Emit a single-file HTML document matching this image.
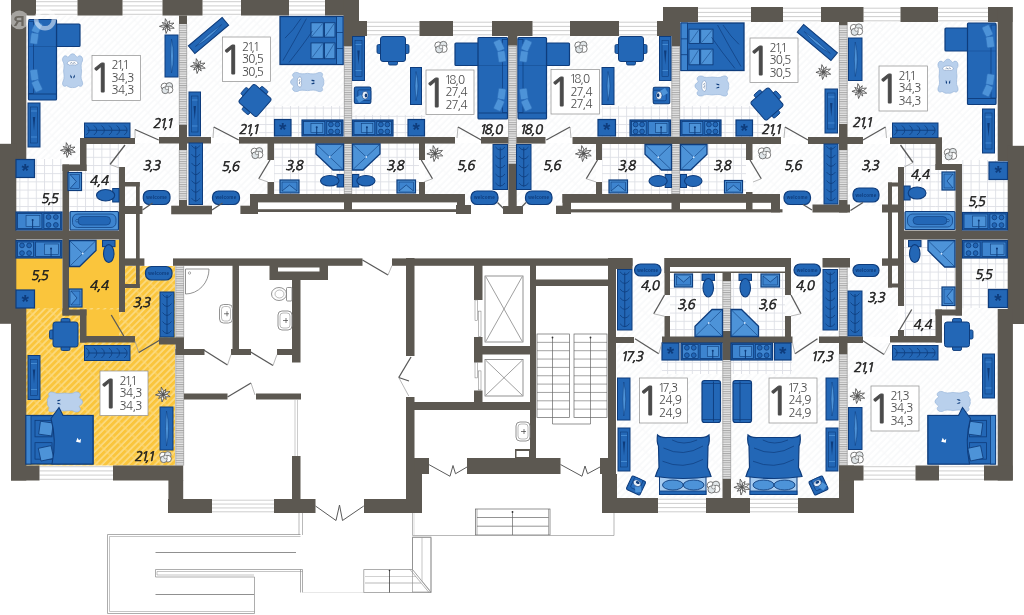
<!DOCTYPE html>
<html lang="ru"><head><meta charset="utf-8"><title>План этажа</title>
<style>
html,body{margin:0;padding:0;background:#fff}
body{width:1024px;height:615px;overflow:hidden;font-family:"Liberation Sans",sans-serif}
svg{display:block}
svg text{font-family:"Liberation Sans",sans-serif}
svg text.ng{font-family:"NanumGothic","Liberation Sans",sans-serif}
</style></head><body>
<svg width="1024" height="615" viewBox="0 0 1024 615">
<defs>
<pattern id="hatch" width="4.7" height="14" patternUnits="userSpaceOnUse" patternTransform="rotate(45)"><rect width="4.7" height="14" fill="#fff"/><line x1="1" y1="0" x2="1" y2="14" stroke="#f1f3f5" stroke-width="0.9"/><line x1="1" y1="3" x2="4.7" y2="3" stroke="#f6f7f8" stroke-width="0.7"/></pattern>
<pattern id="hatchY" width="4.7" height="15" patternUnits="userSpaceOnUse" patternTransform="rotate(45)"><rect width="4.7" height="15" fill="#fac53c"/><line x1="1" y1="0" x2="1" y2="15" stroke="#fde7a8" stroke-width="1.1"/><line x1="1" y1="4" x2="4.7" y2="4" stroke="#fbd983" stroke-width="0.8"/></pattern>
<pattern id="tile" width="8.2" height="8.2" x="3" y="1" patternUnits="userSpaceOnUse"><rect width="8.2" height="8.2" fill="#fff"/><path d="M0 0.5H8.2M0.5 0V8.2" stroke="#dddfe6" stroke-width="0.9" fill="none"/></pattern>
<pattern id="lp" width="8" height="2.3" patternUnits="userSpaceOnUse"><rect width="8" height="2.3" fill="#e4e4e4"/><line x1="0" y1="0.5" x2="8" y2="0.5" stroke="#a9a9a9" stroke-width="1"/></pattern>
<filter id="noop" x="0" y="0" width="1024" height="615" filterUnits="userSpaceOnUse"><feOffset dx="0" dy="0"/></filter>
</defs>
<rect width="1024" height="615" fill="#fff"/>
<g filter="url(#noop)">
<rect x="26" y="15.5" width="153" height="122" fill="url(#hatch)" />
<rect x="26" y="137" width="54" height="23" fill="url(#hatch)" />
<rect x="125" y="143" width="54" height="63" fill="url(#hatch)" />
<rect x="125" y="186" width="11" height="20" fill="url(#hatch)" />
<rect x="16" y="159" width="46.5" height="53" fill="url(#tile)" />
<rect x="86" y="144" width="33" height="68" fill="url(#tile)" />
<rect x="69" y="171" width="17" height="41" fill="url(#tile)" />
<rect x="187" y="15.5" width="157" height="121.5" fill="url(#hatch)" />
<rect x="187" y="143" width="80.5" height="51" fill="url(#hatch)" />
<rect x="187" y="194" width="63" height="12" fill="url(#hatch)" />
<rect x="259" y="106" width="85" height="30.5" fill="url(#tile)" />
<rect x="274" y="143" width="70" height="51" fill="url(#tile)" />
<rect x="352" y="36" width="156" height="101" fill="url(#hatch)" />
<rect x="425" y="143" width="83" height="51" fill="url(#hatch)" />
<rect x="465" y="194" width="43" height="12" fill="url(#hatch)" />
<rect x="352" y="115" width="73" height="21.5" fill="url(#tile)" />
<rect x="352" y="143" width="67" height="51" fill="url(#tile)" />
<rect x="516" y="36" width="156" height="101" fill="url(#hatch)" />
<rect x="516" y="143" width="80" height="51" fill="url(#hatch)" />
<rect x="516" y="194" width="46.5" height="12" fill="url(#hatch)" />
<rect x="602" y="106" width="70" height="31" fill="url(#tile)" />
<rect x="602" y="144" width="70" height="50" fill="url(#tile)" />
<rect x="680" y="22" width="159" height="115" fill="url(#hatch)" />
<rect x="752.5" y="144" width="86.5" height="50" fill="url(#hatch)" />
<rect x="781" y="194" width="58" height="12" fill="url(#hatch)" />
<rect x="680" y="106" width="85" height="31" fill="url(#tile)" />
<rect x="680" y="144" width="66" height="50" fill="url(#tile)" />
<rect x="847.5" y="22" width="150.5" height="115.5" fill="url(#hatch)" />
<rect x="942" y="137" width="56" height="25" fill="url(#hatch)" />
<rect x="847.5" y="144" width="50.5" height="62" fill="url(#hatch)" />
<rect x="962" y="160" width="46" height="52.5" fill="url(#tile)" />
<rect x="904" y="144" width="31.5" height="68" fill="url(#tile)" />
<rect x="935.5" y="170" width="20" height="42" fill="url(#tile)" />
<rect x="847.5" y="266" width="50.5" height="71" fill="url(#hatch)" />
<rect x="847.5" y="343" width="150.5" height="122.5" fill="url(#hatch)" />
<rect x="942" y="315" width="56" height="28" fill="url(#hatch)" />
<rect x="962" y="240" width="46" height="68" fill="url(#tile)" />
<rect x="962" y="308" width="36" height="8" fill="url(#hatch)" />
<rect x="904" y="240" width="51.5" height="69.5" fill="url(#tile)" />
<rect x="904" y="309.5" width="31.5" height="26.5" fill="url(#tile)" />
<rect x="617" y="266" width="105.5" height="232" fill="url(#hatch)" />
<rect x="731" y="266" width="108" height="232" fill="url(#hatch)" />
<rect x="670" y="273" width="52.5" height="64" fill="url(#tile)" />
<rect x="731" y="273" width="54" height="64" fill="url(#tile)" />
<rect x="662" y="360" width="60.5" height="14" fill="url(#tile)" />
<rect x="731" y="360" width="61" height="14" fill="url(#tile)" />
<rect x="16" y="240" width="46.5" height="70" fill="#fac53c" />
<rect x="69" y="240" width="50" height="96" fill="#fac53c" />
<rect x="62" y="310" width="18" height="10" fill="#fac53c" />
<rect x="125" y="266" width="50" height="71.5" fill="url(#hatchY)" />
<rect x="26" y="308" width="149" height="157.5" fill="url(#hatchY)" />
<rect x="86" y="309.5" width="33" height="26.5" fill="#fac53c" />
<rect x="119" y="312" width="6" height="24" fill="url(#hatchY)" />
<rect x="179" y="24" width="8" height="101" fill="url(#lp)" />
<path d="M179.3 24V125M186.7 24V125" stroke="#9f9f9f" stroke-width="0.7" fill="none"/>
<rect x="179" y="150" width="8" height="50" fill="url(#lp)" />
<path d="M179.3 150V200M186.7 150V200" stroke="#9f9f9f" stroke-width="0.7" fill="none"/>
<rect x="344" y="46" width="8" height="148" fill="url(#lp)" />
<path d="M344.3 46V194M351.7 46V194" stroke="#9f9f9f" stroke-width="0.7" fill="none"/>
<rect x="508.3" y="45" width="8.4" height="119" fill="url(#lp)" />
<path d="M508.6 45V164M516.4 45V164" stroke="#9f9f9f" stroke-width="0.7" fill="none"/>
<rect x="671.5" y="46" width="8.5" height="148" fill="url(#lp)" />
<path d="M671.8 46V194M679.7 46V194" stroke="#9f9f9f" stroke-width="0.7" fill="none"/>
<rect x="839" y="25" width="8.5" height="99" fill="url(#lp)" />
<path d="M839.3 25V124M847.2 25V124" stroke="#9f9f9f" stroke-width="0.7" fill="none"/>
<rect x="839" y="150" width="8.5" height="50" fill="url(#lp)" />
<path d="M839.3 150V200M847.2 150V200" stroke="#9f9f9f" stroke-width="0.7" fill="none"/>
<rect x="175.5" y="266" width="8.5" height="71.5" fill="url(#lp)" />
<path d="M175.8 266V337.5M183.7 266V337.5" stroke="#9f9f9f" stroke-width="0.7" fill="none"/>
<rect x="175.5" y="355" width="8.5" height="110.5" fill="url(#lp)" />
<path d="M175.8 355V465.5M183.7 355V465.5" stroke="#9f9f9f" stroke-width="0.7" fill="none"/>
<rect x="722.5" y="281" width="8.5" height="50" fill="url(#lp)" />
<path d="M722.8 281V331M730.7 281V331" stroke="#9f9f9f" stroke-width="0.7" fill="none"/>
<rect x="722.5" y="360" width="8.5" height="119" fill="url(#lp)" />
<path d="M722.8 360V479M730.7 360V479" stroke="#9f9f9f" stroke-width="0.7" fill="none"/>
<rect x="839" y="267.5" width="8.5" height="69.5" fill="url(#lp)" />
<path d="M839.3 267.5V337M847.2 267.5V337" stroke="#9f9f9f" stroke-width="0.7" fill="none"/>
<rect x="839" y="354" width="8.5" height="111.5" fill="url(#lp)" />
<path d="M839.3 354V465.5M847.2 354V465.5" stroke="#9f9f9f" stroke-width="0.7" fill="none"/>
<rect x="36" y="1" width="41.5" height="14" fill="#fff" />
<line x1="36" y1="1.7" x2="77.5" y2="1.7" stroke="#b9b9b9" stroke-width="0.7"/>
<line x1="36" y1="5.9" x2="77.5" y2="5.9" stroke="#b9b9b9" stroke-width="0.7"/>
<line x1="36" y1="10.1" x2="77.5" y2="10.1" stroke="#b9b9b9" stroke-width="0.7"/>
<line x1="36" y1="14.3" x2="77.5" y2="14.3" stroke="#b9b9b9" stroke-width="0.7"/>
<rect x="122.5" y="1" width="40" height="14" fill="#fff" />
<line x1="122.5" y1="1.7" x2="162.5" y2="1.7" stroke="#b9b9b9" stroke-width="0.7"/>
<line x1="122.5" y1="5.9" x2="162.5" y2="5.9" stroke="#b9b9b9" stroke-width="0.7"/>
<line x1="122.5" y1="10.1" x2="162.5" y2="10.1" stroke="#b9b9b9" stroke-width="0.7"/>
<line x1="122.5" y1="14.3" x2="162.5" y2="14.3" stroke="#b9b9b9" stroke-width="0.7"/>
<rect x="202.5" y="1" width="38.5" height="14" fill="#fff" />
<line x1="202.5" y1="1.7" x2="241" y2="1.7" stroke="#b9b9b9" stroke-width="0.7"/>
<line x1="202.5" y1="5.9" x2="241" y2="5.9" stroke="#b9b9b9" stroke-width="0.7"/>
<line x1="202.5" y1="10.1" x2="241" y2="10.1" stroke="#b9b9b9" stroke-width="0.7"/>
<line x1="202.5" y1="14.3" x2="241" y2="14.3" stroke="#b9b9b9" stroke-width="0.7"/>
<rect x="289" y="1" width="36" height="14" fill="#fff" />
<line x1="289" y1="1.7" x2="325" y2="1.7" stroke="#b9b9b9" stroke-width="0.7"/>
<line x1="289" y1="5.9" x2="325" y2="5.9" stroke="#b9b9b9" stroke-width="0.7"/>
<line x1="289" y1="10.1" x2="325" y2="10.1" stroke="#b9b9b9" stroke-width="0.7"/>
<line x1="289" y1="14.3" x2="325" y2="14.3" stroke="#b9b9b9" stroke-width="0.7"/>
<rect x="367" y="21.5" width="52.5" height="14" fill="#fff" />
<line x1="367" y1="22.2" x2="419.5" y2="22.2" stroke="#b9b9b9" stroke-width="0.7"/>
<line x1="367" y1="26.4" x2="419.5" y2="26.4" stroke="#b9b9b9" stroke-width="0.7"/>
<line x1="367" y1="30.6" x2="419.5" y2="30.6" stroke="#b9b9b9" stroke-width="0.7"/>
<line x1="367" y1="34.8" x2="419.5" y2="34.8" stroke="#b9b9b9" stroke-width="0.7"/>
<rect x="453" y="21.5" width="39" height="14" fill="#fff" />
<line x1="453" y1="22.2" x2="492" y2="22.2" stroke="#b9b9b9" stroke-width="0.7"/>
<line x1="453" y1="26.4" x2="492" y2="26.4" stroke="#b9b9b9" stroke-width="0.7"/>
<line x1="453" y1="30.6" x2="492" y2="30.6" stroke="#b9b9b9" stroke-width="0.7"/>
<line x1="453" y1="34.8" x2="492" y2="34.8" stroke="#b9b9b9" stroke-width="0.7"/>
<rect x="532.5" y="21.5" width="37.5" height="14" fill="#fff" />
<line x1="532.5" y1="22.2" x2="570" y2="22.2" stroke="#b9b9b9" stroke-width="0.7"/>
<line x1="532.5" y1="26.4" x2="570" y2="26.4" stroke="#b9b9b9" stroke-width="0.7"/>
<line x1="532.5" y1="30.6" x2="570" y2="30.6" stroke="#b9b9b9" stroke-width="0.7"/>
<line x1="532.5" y1="34.8" x2="570" y2="34.8" stroke="#b9b9b9" stroke-width="0.7"/>
<rect x="619" y="21.5" width="38" height="14" fill="#fff" />
<line x1="619" y1="22.2" x2="657" y2="22.2" stroke="#b9b9b9" stroke-width="0.7"/>
<line x1="619" y1="26.4" x2="657" y2="26.4" stroke="#b9b9b9" stroke-width="0.7"/>
<line x1="619" y1="30.6" x2="657" y2="30.6" stroke="#b9b9b9" stroke-width="0.7"/>
<line x1="619" y1="34.8" x2="657" y2="34.8" stroke="#b9b9b9" stroke-width="0.7"/>
<rect x="698" y="7.5" width="53" height="14" fill="#fff" />
<line x1="698" y1="8.2" x2="751" y2="8.2" stroke="#b9b9b9" stroke-width="0.7"/>
<line x1="698" y1="12.4" x2="751" y2="12.4" stroke="#b9b9b9" stroke-width="0.7"/>
<line x1="698" y1="16.6" x2="751" y2="16.6" stroke="#b9b9b9" stroke-width="0.7"/>
<line x1="698" y1="20.8" x2="751" y2="20.8" stroke="#b9b9b9" stroke-width="0.7"/>
<rect x="783" y="7.5" width="38" height="14" fill="#fff" />
<line x1="783" y1="8.2" x2="821" y2="8.2" stroke="#b9b9b9" stroke-width="0.7"/>
<line x1="783" y1="12.4" x2="821" y2="12.4" stroke="#b9b9b9" stroke-width="0.7"/>
<line x1="783" y1="16.6" x2="821" y2="16.6" stroke="#b9b9b9" stroke-width="0.7"/>
<line x1="783" y1="20.8" x2="821" y2="20.8" stroke="#b9b9b9" stroke-width="0.7"/>
<rect x="863.5" y="7.5" width="37" height="14" fill="#fff" />
<line x1="863.5" y1="8.2" x2="900.5" y2="8.2" stroke="#b9b9b9" stroke-width="0.7"/>
<line x1="863.5" y1="12.4" x2="900.5" y2="12.4" stroke="#b9b9b9" stroke-width="0.7"/>
<line x1="863.5" y1="16.6" x2="900.5" y2="16.6" stroke="#b9b9b9" stroke-width="0.7"/>
<line x1="863.5" y1="20.8" x2="900.5" y2="20.8" stroke="#b9b9b9" stroke-width="0.7"/>
<rect x="938" y="7.5" width="50" height="14" fill="#fff" />
<line x1="938" y1="8.2" x2="988" y2="8.2" stroke="#b9b9b9" stroke-width="0.7"/>
<line x1="938" y1="12.4" x2="988" y2="12.4" stroke="#b9b9b9" stroke-width="0.7"/>
<line x1="938" y1="16.6" x2="988" y2="16.6" stroke="#b9b9b9" stroke-width="0.7"/>
<line x1="938" y1="20.8" x2="988" y2="20.8" stroke="#b9b9b9" stroke-width="0.7"/>
<rect x="39.5" y="466" width="73.5" height="14" fill="#fff" />
<line x1="39.5" y1="466.7" x2="113" y2="466.7" stroke="#b9b9b9" stroke-width="0.7"/>
<line x1="39.5" y1="470.9" x2="113" y2="470.9" stroke="#b9b9b9" stroke-width="0.7"/>
<line x1="39.5" y1="475.1" x2="113" y2="475.1" stroke="#b9b9b9" stroke-width="0.7"/>
<line x1="39.5" y1="479.3" x2="113" y2="479.3" stroke="#b9b9b9" stroke-width="0.7"/>
<rect x="212" y="499.5" width="62" height="13" fill="#fff" />
<line x1="212" y1="500.2" x2="274" y2="500.2" stroke="#b9b9b9" stroke-width="0.7"/>
<line x1="212" y1="504.067" x2="274" y2="504.067" stroke="#b9b9b9" stroke-width="0.7"/>
<line x1="212" y1="507.933" x2="274" y2="507.933" stroke="#b9b9b9" stroke-width="0.7"/>
<line x1="212" y1="511.8" x2="274" y2="511.8" stroke="#b9b9b9" stroke-width="0.7"/>
<rect x="658" y="498.5" width="48" height="14" fill="#fff" />
<line x1="658" y1="499.2" x2="706" y2="499.2" stroke="#b9b9b9" stroke-width="0.7"/>
<line x1="658" y1="503.4" x2="706" y2="503.4" stroke="#b9b9b9" stroke-width="0.7"/>
<line x1="658" y1="507.6" x2="706" y2="507.6" stroke="#b9b9b9" stroke-width="0.7"/>
<line x1="658" y1="511.8" x2="706" y2="511.8" stroke="#b9b9b9" stroke-width="0.7"/>
<rect x="750" y="498.5" width="48" height="14" fill="#fff" />
<line x1="750" y1="499.2" x2="798" y2="499.2" stroke="#b9b9b9" stroke-width="0.7"/>
<line x1="750" y1="503.4" x2="798" y2="503.4" stroke="#b9b9b9" stroke-width="0.7"/>
<line x1="750" y1="507.6" x2="798" y2="507.6" stroke="#b9b9b9" stroke-width="0.7"/>
<line x1="750" y1="511.8" x2="798" y2="511.8" stroke="#b9b9b9" stroke-width="0.7"/>
<rect x="863.5" y="466" width="52" height="14" fill="#fff" />
<line x1="863.5" y1="466.7" x2="915.5" y2="466.7" stroke="#b9b9b9" stroke-width="0.7"/>
<line x1="863.5" y1="470.9" x2="915.5" y2="470.9" stroke="#b9b9b9" stroke-width="0.7"/>
<line x1="863.5" y1="475.1" x2="915.5" y2="475.1" stroke="#b9b9b9" stroke-width="0.7"/>
<line x1="863.5" y1="479.3" x2="915.5" y2="479.3" stroke="#b9b9b9" stroke-width="0.7"/>
<rect x="939" y="466" width="45" height="14" fill="#fff" />
<line x1="939" y1="466.7" x2="984" y2="466.7" stroke="#b9b9b9" stroke-width="0.7"/>
<line x1="939" y1="470.9" x2="984" y2="470.9" stroke="#b9b9b9" stroke-width="0.7"/>
<line x1="939" y1="475.1" x2="984" y2="475.1" stroke="#b9b9b9" stroke-width="0.7"/>
<line x1="939" y1="479.3" x2="984" y2="479.3" stroke="#b9b9b9" stroke-width="0.7"/>
<rect x="11" y="0" width="15.3" height="159.6" fill="#5c5851" />
<rect x="0" y="143.8" width="16.3" height="180" fill="#5c5851" />
<rect x="11" y="308" width="15.3" height="172.5" fill="#5c5851" />
<rect x="11" y="0" width="25" height="15.5" fill="#5c5851" />
<rect x="77.5" y="0" width="45" height="15.5" fill="#5c5851" />
<rect x="162.5" y="0" width="40" height="15.5" fill="#5c5851" />
<rect x="241" y="0" width="48" height="15.5" fill="#5c5851" />
<rect x="325" y="0" width="34" height="15.5" fill="#5c5851" />
<rect x="343.5" y="0" width="15.5" height="36" fill="#5c5851" />
<rect x="359" y="21" width="8" height="15" fill="#5c5851" />
<rect x="343.5" y="36" width="8.5" height="10" fill="#5c5851" />
<rect x="419.5" y="21" width="33.5" height="15" fill="#5c5851" />
<rect x="492" y="21" width="40.5" height="15" fill="#5c5851" />
<rect x="570" y="21" width="49" height="15" fill="#5c5851" />
<rect x="657" y="21" width="23" height="15" fill="#5c5851" />
<rect x="663" y="7" width="35" height="15" fill="#5c5851" />
<rect x="671.5" y="36" width="8.5" height="10" fill="#5c5851" />
<rect x="751" y="7" width="32" height="15" fill="#5c5851" />
<rect x="821" y="7" width="42.5" height="15" fill="#5c5851" />
<rect x="900.5" y="7" width="37.5" height="15" fill="#5c5851" />
<rect x="988" y="7" width="24.5" height="15" fill="#5c5851" />
<rect x="997.7" y="7" width="15" height="154" fill="#5c5851" />
<rect x="1007.7" y="145.8" width="16.3" height="178.2" fill="#5c5851" />
<rect x="997.7" y="309" width="15.2" height="171.5" fill="#5c5851" />
<rect x="179" y="15.5" width="8" height="8.5" fill="#5c5851" />
<rect x="179" y="125" width="8" height="25" fill="#5c5851" />
<rect x="179" y="200" width="8" height="14" fill="#5c5851" />
<rect x="171.2" y="205.7" width="40.8" height="8.6" fill="#5c5851" />
<rect x="159" y="137" width="52" height="6.5" fill="#5c5851" />
<rect x="839" y="22" width="8.5" height="3" fill="#5c5851" />
<rect x="839" y="124" width="8.5" height="26" fill="#5c5851" />
<rect x="839" y="200" width="8.5" height="12.5" fill="#5c5851" />
<rect x="812.5" y="204.5" width="37.5" height="8" fill="#5c5851" />
<rect x="808" y="137" width="55" height="7" fill="#5c5851" />
<rect x="239" y="137" width="216" height="6.6" fill="#5c5851" />
<rect x="267.5" y="143" width="6.5" height="17" fill="#5c5851" />
<rect x="267.5" y="182" width="6.5" height="12" fill="#5c5851" />
<rect x="419" y="143" width="6" height="17" fill="#5c5851" />
<rect x="419" y="182" width="6" height="12" fill="#5c5851" />
<rect x="481" y="137" width="27.3" height="6.6" fill="#5c5851" />
<rect x="516.5" y="137" width="29" height="6.6" fill="#5c5851" />
<rect x="572.5" y="137" width="208.5" height="7" fill="#5c5851" />
<rect x="596" y="144" width="6" height="16" fill="#5c5851" />
<rect x="596" y="182" width="6" height="12" fill="#5c5851" />
<rect x="746" y="144" width="6.5" height="16" fill="#5c5851" />
<rect x="746" y="192" width="6.5" height="2" fill="#5c5851" />
<rect x="344" y="137" width="8" height="6.6" fill="#5c5851" />
<rect x="671.5" y="137" width="8.5" height="7" fill="#5c5851" />
<rect x="508" y="35" width="9.3" height="10.5" fill="#5c5851" />
<rect x="508.3" y="164" width="8.4" height="50" fill="#5c5851" />
<rect x="503" y="206" width="20" height="8" fill="#5c5851" />
<rect x="250" y="194" width="215" height="8.4" fill="#5c5851" />
<rect x="250" y="194" width="8" height="20" fill="#5c5851" />
<rect x="240.4" y="205.7" width="17.6" height="8.3" fill="#5c5851" />
<rect x="258" y="209.2" width="207" height="2.8" fill="#5c5851" />
<rect x="344" y="201" width="8" height="9" fill="#5c5851" />
<rect x="457" y="194" width="8" height="20" fill="#5c5851" />
<rect x="456" y="205" width="15" height="9" fill="#5c5851" />
<rect x="562.5" y="194" width="217.5" height="8.8" fill="#5c5851" />
<rect x="562.5" y="194" width="8.5" height="20" fill="#5c5851" />
<rect x="556" y="205.7" width="15" height="8.3" fill="#5c5851" />
<rect x="571" y="209.2" width="211.5" height="3.2" fill="#5c5851" />
<rect x="671.5" y="202" width="8.5" height="8" fill="#5c5851" />
<rect x="746" y="202" width="6.5" height="8" fill="#5c5851" />
<rect x="771" y="194" width="9" height="18.4" fill="#5c5851" />
<rect x="80" y="138" width="55" height="6" fill="#5c5851" />
<rect x="80" y="138" width="6.5" height="33" fill="#5c5851" />
<rect x="62.5" y="164.5" width="24" height="6.5" fill="#5c5851" />
<rect x="62.5" y="164.5" width="6.5" height="151" fill="#5c5851" />
<rect x="16" y="230.5" width="109" height="9" fill="#5c5851" />
<rect x="119" y="167" width="6" height="145" fill="#5c5851" />
<rect x="125" y="182" width="14.7" height="4.5" fill="#5c5851" />
<rect x="136" y="182" width="3.7" height="106" fill="#5c5851" />
<rect x="125" y="206" width="17.5" height="8" fill="#5c5851" />
<rect x="125" y="258.4" width="19.4" height="7.4" fill="#5c5851" />
<rect x="125" y="284" width="14.7" height="4" fill="#5c5851" />
<rect x="62.5" y="309.5" width="24" height="6" fill="#5c5851" />
<rect x="80" y="309.5" width="6.5" height="33" fill="#5c5851" />
<rect x="80" y="336" width="55" height="6.5" fill="#5c5851" />
<rect x="159" y="337.5" width="25" height="7" fill="#5c5851" />
<rect x="175.5" y="337.5" width="8.5" height="17.5" fill="#5c5851" />
<rect x="175.5" y="349" width="28.5" height="6" fill="#5c5851" />
<rect x="11" y="465.5" width="28.5" height="15" fill="#5c5851" />
<rect x="113" y="465.5" width="70.2" height="15" fill="#5c5851" />
<rect x="168.4" y="480" width="14.8" height="33" fill="#5c5851" />
<rect x="168" y="499" width="44" height="14" fill="#5c5851" />
<rect x="274" y="499" width="41.5" height="14" fill="#5c5851" />
<rect x="173" y="258.4" width="189.5" height="7.4" fill="#5c5851" />
<rect x="392" y="258.4" width="240.5" height="7.4" fill="#5c5851" />
<rect x="232.5" y="265" width="6.5" height="90" fill="#5c5851" />
<rect x="231" y="349" width="20" height="6" fill="#5c5851" />
<rect x="200" y="349" width="4.5" height="6" fill="#5c5851" />
<rect x="269.5" y="265" width="58.5" height="15" fill="#5c5851" />
<rect x="292" y="280" width="8.5" height="82.5" fill="#5c5851" />
<rect x="277" y="349" width="16" height="6" fill="#5c5851" />
<rect x="184" y="393.5" width="43.5" height="6" fill="#5c5851" />
<rect x="256" y="393.5" width="45" height="6" fill="#5c5851" />
<rect x="292" y="456" width="8.5" height="43" fill="#5c5851" />
<rect x="406" y="258" width="8.5" height="98" fill="#5c5851" />
<rect x="406" y="397" width="8.5" height="116" fill="#5c5851" />
<rect x="406" y="402" width="130" height="8" fill="#5c5851" />
<rect x="406" y="458" width="16" height="55" fill="#5c5851" />
<rect x="414.5" y="458" width="14.5" height="16" fill="#5c5851" />
<rect x="364" y="499" width="58" height="14" fill="#5c5851" />
<rect x="474" y="265" width="8.5" height="35" fill="#5c5851" />
<rect x="474" y="337" width="8.5" height="25.5" fill="#5c5851" />
<rect x="474" y="346" width="62" height="8.5" fill="#5c5851" />
<rect x="474" y="390.5" width="8.5" height="11.5" fill="#5c5851" />
<rect x="530" y="265" width="6" height="193" fill="#5c5851" />
<rect x="536" y="279.5" width="73" height="6.5" fill="#5c5851" />
<rect x="608" y="258" width="8" height="216" fill="#5c5851" />
<rect x="608" y="258" width="24.5" height="11" fill="#5c5851" />
<rect x="515" y="449" width="15" height="9" fill="#5c5851" />
<rect x="467" y="458" width="93.5" height="16" fill="#5c5851" />
<rect x="600" y="458" width="16" height="16" fill="#5c5851" />
<rect x="602" y="474" width="15" height="39" fill="#5c5851" />
<rect x="602" y="498" width="56" height="15" fill="#5c5851" />
<rect x="706" y="498" width="44" height="15" fill="#5c5851" />
<rect x="798" y="498" width="56" height="15" fill="#5c5851" />
<rect x="839" y="465.5" width="15" height="47.5" fill="#5c5851" />
<rect x="839" y="465.5" width="24.5" height="15" fill="#5c5851" />
<rect x="915.5" y="465.5" width="23.5" height="15" fill="#5c5851" />
<rect x="984" y="465.5" width="28.5" height="15" fill="#5c5851" />
<rect x="722.5" y="479" width="8.5" height="19" fill="#5c5851" />
<rect x="616" y="337" width="18" height="6" fill="#5c5851" />
<rect x="664.5" y="258" width="126.5" height="15" fill="#5c5851" />
<rect x="664.5" y="258" width="5.5" height="37" fill="#5c5851" />
<rect x="664.5" y="316" width="5.5" height="21" fill="#5c5851" />
<rect x="785" y="258" width="6" height="37" fill="#5c5851" />
<rect x="785" y="316" width="6" height="21" fill="#5c5851" />
<rect x="722.5" y="273" width="8.5" height="8" fill="#5c5851" />
<rect x="722.5" y="331" width="8.5" height="29" fill="#5c5851" />
<rect x="662" y="336.5" width="130.5" height="6.5" fill="#5c5851" />
<rect x="819" y="336.5" width="44" height="6.5" fill="#5c5851" />
<rect x="839" y="336.5" width="8.5" height="17.5" fill="#5c5851" />
<rect x="822.5" y="258" width="27.5" height="9.5" fill="#5c5851" />
<rect x="768" y="258" width="23" height="8" fill="#5c5851" />
<rect x="890" y="137.5" width="52" height="6.5" fill="#5c5851" />
<rect x="935.5" y="137.5" width="6.5" height="32.5" fill="#5c5851" />
<rect x="935.5" y="164" width="26.5" height="6" fill="#5c5851" />
<rect x="955.5" y="164" width="6.5" height="151.5" fill="#5c5851" />
<rect x="898" y="230.5" width="110" height="9" fill="#5c5851" />
<rect x="898" y="167" width="6" height="139" fill="#5c5851" />
<rect x="888" y="182.5" width="10" height="4" fill="#5c5851" />
<rect x="888" y="182.5" width="4" height="105" fill="#5c5851" />
<rect x="882" y="204.5" width="16" height="8" fill="#5c5851" />
<rect x="882" y="258.4" width="16" height="7.4" fill="#5c5851" />
<rect x="888" y="283.5" width="10" height="4" fill="#5c5851" />
<rect x="935.5" y="309.5" width="26.5" height="6" fill="#5c5851" />
<rect x="935.5" y="309.5" width="6.5" height="33" fill="#5c5851" />
<rect x="890" y="336" width="52" height="6.5" fill="#5c5851" />
<rect x="278" y="267.5" width="41.5" height="4" fill="#fff" />
<rect x="670" y="267" width="115" height="4.5" fill="#fff" />
<rect x="516.5" y="451" width="12.5" height="6" fill="#fff" />
<rect x="898" y="330" width="6" height="6" fill="#5c5851" />
<rect x="56.5" y="24" width="23.5" height="22.5" fill="#2367b6" stroke="#0e3c7c" stroke-width="1.2" rx="1"/>
<rect x="28.5" y="19.5" width="28" height="80.5" fill="#2367b6" stroke="#0e3c7c" stroke-width="1.2" rx="1"/>
<rect x="28.5" y="21.5" width="5" height="72" fill="#2368ba" stroke="#0e3c7c" stroke-width="0.7"/>
<line x1="28.5" y1="94" x2="56.5" y2="94" stroke="#0e3c7c" stroke-width="0.9"/>
<line x1="28.5" y1="46.5" x2="56.5" y2="46.5" stroke="#0e3c7c" stroke-width="0.6" opacity="0.6"/>
<rect x="33.2" y="22" width="7.6" height="11" rx="1.2" fill="#4d93d8" stroke="#2b6cb8" stroke-width="0.6" transform="rotate(25 37 27.5)"/>
<rect x="30.5" y="33" width="7.6" height="11" rx="1.2" fill="#4d93d8" stroke="#2b6cb8" stroke-width="0.6" transform="rotate(8 34.3 38.5)"/>
<rect x="30.5" y="69.5" width="7.6" height="11" rx="1.2" fill="#4d93d8" stroke="#2b6cb8" stroke-width="0.6" transform="rotate(-8 34.3 75)"/>
<rect x="33.2" y="80.5" width="7.6" height="11" rx="1.2" fill="#4d93d8" stroke="#2b6cb8" stroke-width="0.6" transform="rotate(-25 37 86)"/>
<g transform="rotate(0 72.6 71)"><path d="M72.60 53.75 C75.35 53.75 75.90 57.20 77.55 57.20 C79.20 54.27 83.60 56.34 82.50 61.00 C80.52 63.24 81.18 67.55 81.62 71.00 C81.18 75.31 80.52 78.25 82.06 81.00 C83.82 84.80 81.40 87.73 78.65 85.66 C77.00 86.53 74.80 88.25 72.60 87.39 C70.40 88.25 68.20 86.53 66.55 85.66 C63.80 87.73 61.38 84.80 63.14 81.00 C64.68 78.25 64.02 75.31 63.58 71.00 C64.02 67.55 64.68 63.24 62.70 61.00 C61.60 56.34 66.00 54.27 67.65 57.20 C69.30 57.20 69.85 53.75 72.60 53.75Z" fill="#b9d0ec" stroke="#9ab6da" stroke-width="0.7"/><path d="M67.10 63.76 Q67.65 60.30 72.60 60.65 Q77.55 60.30 78.10 63.76 Q75.90 65.83 72.60 64.79 Q69.30 65.83 67.10 63.76Z" fill="#fff" stroke="#6f8db8" stroke-width="0.5"/><path d="M70.18 63.41 q1.2 -1.6 2.4 0 M73.04 63.41 q1.2 -1.6 2.4 0" fill="none" stroke="#33527f" stroke-width="0.6"/><path d="M70.40 74.45 q-0.6 3.2 1.2 4 q1 -1.5 -1.2 -4z M74.80 74.45 q0.6 3.2 -1.2 4 q-1 -1.5 1.2 -4z" fill="#0e3c7c"/></g>
<rect x="28" y="103" width="12" height="44" fill="#2367b6" stroke="#0e3c7c" stroke-width="1"/>
<rect x="30.5" y="107" width="7" height="36" fill="none" stroke="#0e3c7c" stroke-width="0.6"/>
<path d="M32.8 117 L35.2 117 L34 131Z" fill="#0e3c7c"/>
<line x1="31" y1="111" x2="37" y2="111" stroke="#4d93d8" stroke-width="0.8"/>
<line x1="31" y1="137" x2="37" y2="137" stroke="#4d93d8" stroke-width="0.8"/>
<rect x="84.5" y="123" width="45.5" height="14.5" fill="#2367b6" stroke="#0e3c7c" stroke-width="1"/>
<line x1="87.5" y1="130.25" x2="127" y2="130.25" stroke="#0e3c7c" stroke-width="0.9"/>
<path d="M86.2917 125.5 Q92.2917 130.25 86.2917 135" fill="none" stroke="#0e3c7c" stroke-width="0.8"/>
<path d="M93.875 125.5 Q99.875 130.25 93.875 135" fill="none" stroke="#0e3c7c" stroke-width="0.8"/>
<path d="M101.458 125.5 Q107.458 130.25 101.458 135" fill="none" stroke="#0e3c7c" stroke-width="0.8"/>
<path d="M109.042 125.5 Q115.042 130.25 109.042 135" fill="none" stroke="#0e3c7c" stroke-width="0.8"/>
<path d="M116.625 125.5 Q122.625 130.25 116.625 135" fill="none" stroke="#0e3c7c" stroke-width="0.8"/>
<path d="M124.208 125.5 Q130.208 130.25 124.208 135" fill="none" stroke="#0e3c7c" stroke-width="0.8"/>
<rect x="165" y="35" width="13" height="42" fill="#2367b6" stroke="#0e3c7c" stroke-width="1"/>
<path d="M171.5 39 Q175.5 56 171.5 73 Q169.5 56 171.5 39Z" fill="#4d93d8" stroke="#0e3c7c" stroke-width="0.5"/>
<path d="M167 26 Q170.27 29.36 174.22 28.23 Q171.59 25.07 167 26Z" fill="#fff" stroke="#444" stroke-width="0.8" stroke-linejoin="round"/><path d="M167 26 Q167.27 29.68 170.22 31.00 Q170.24 27.76 167 26Z" fill="#fff" stroke="#444" stroke-width="0.8" stroke-linejoin="round"/><path d="M167 26 Q164.26 29.80 166.05 33.50 Q168.71 30.36 167 26Z" fill="#fff" stroke="#444" stroke-width="0.8" stroke-linejoin="round"/><path d="M167 26 Q163.42 26.90 162.64 30.04 Q165.83 29.50 167 26Z" fill="#fff" stroke="#444" stroke-width="0.8" stroke-linejoin="round"/><path d="M167 26 Q162.78 23.96 159.45 26.37 Q163.00 28.45 167 26Z" fill="#fff" stroke="#444" stroke-width="0.8" stroke-linejoin="round"/><path d="M167 26 Q165.49 22.63 162.26 22.40 Q163.35 25.45 167 26Z" fill="#fff" stroke="#444" stroke-width="0.8" stroke-linejoin="round"/><path d="M167 26 Q168.28 21.49 165.32 18.63 Q163.90 22.49 167 26Z" fill="#fff" stroke="#444" stroke-width="0.8" stroke-linejoin="round"/><path d="M167 26 Q170.05 23.93 169.72 20.71 Q166.91 22.31 167 26Z" fill="#fff" stroke="#444" stroke-width="0.8" stroke-linejoin="round"/><path d="M167 26 Q171.66 26.48 173.97 23.07 Q169.92 22.33 167 26Z" fill="#fff" stroke="#444" stroke-width="0.8" stroke-linejoin="round"/><circle cx="167" cy="26" r="1.3" fill="#555"/>
<circle cx="164.48" cy="86.49" r="3.36" fill="#fff" stroke="#5c5c5c" stroke-width="0.8"/><circle cx="169.27" cy="85.98" r="3.36" fill="#e3e8ea" stroke="#5c5c5c" stroke-width="0.8"/><circle cx="169.52" cy="89.76" r="3.36" fill="#fff" stroke="#5c5c5c" stroke-width="0.8"/><circle cx="165.24" cy="90.27" r="3.36" fill="#dfe5e8" stroke="#5c5c5c" stroke-width="0.8"/><circle cx="167" cy="88" r="1.80" fill="#eef1f2" stroke="#6a6a6a" stroke-width="0.6"/>
<path d="M68 150 Q71.27 153.36 75.22 152.23 Q72.59 149.07 68 150Z" fill="#fff" stroke="#444" stroke-width="0.8" stroke-linejoin="round"/><path d="M68 150 Q68.27 153.68 71.22 155.00 Q71.24 151.76 68 150Z" fill="#fff" stroke="#444" stroke-width="0.8" stroke-linejoin="round"/><path d="M68 150 Q65.26 153.80 67.05 157.50 Q69.71 154.36 68 150Z" fill="#fff" stroke="#444" stroke-width="0.8" stroke-linejoin="round"/><path d="M68 150 Q64.42 150.90 63.64 154.04 Q66.83 153.50 68 150Z" fill="#fff" stroke="#444" stroke-width="0.8" stroke-linejoin="round"/><path d="M68 150 Q63.78 147.96 60.45 150.37 Q64.00 152.45 68 150Z" fill="#fff" stroke="#444" stroke-width="0.8" stroke-linejoin="round"/><path d="M68 150 Q66.49 146.63 63.26 146.40 Q64.35 149.45 68 150Z" fill="#fff" stroke="#444" stroke-width="0.8" stroke-linejoin="round"/><path d="M68 150 Q69.28 145.49 66.32 142.63 Q64.90 146.49 68 150Z" fill="#fff" stroke="#444" stroke-width="0.8" stroke-linejoin="round"/><path d="M68 150 Q71.05 147.93 70.72 144.71 Q67.91 146.31 68 150Z" fill="#fff" stroke="#444" stroke-width="0.8" stroke-linejoin="round"/><path d="M68 150 Q72.66 150.48 74.97 147.07 Q70.92 146.33 68 150Z" fill="#fff" stroke="#444" stroke-width="0.8" stroke-linejoin="round"/><circle cx="68" cy="150" r="1.3" fill="#555"/>
<rect x="16" y="159.5" width="18.5" height="18" fill="#2367b6" stroke="#0e3c7c" stroke-width="1.2"/>
<text x="25.25" y="177.1" font-size="19" text-anchor="middle" fill="#0e3c7c" font-weight="bold">*</text>
<rect x="16" y="212" width="46" height="18" fill="#2367b6" stroke="#0e3c7c" stroke-width="1.2"/>
<rect x="43.9" y="213.5" width="16.6" height="15" fill="#3d84cf" stroke="#0e3c7c" stroke-width="0.8"/>
<circle cx="48.548" cy="217.04" r="2.4" fill="#2367b6" stroke="#0e3c7c" stroke-width="0.8"/>
<circle cx="48.548" cy="224.96" r="2.4" fill="#2367b6" stroke="#0e3c7c" stroke-width="0.8"/>
<circle cx="55.852" cy="217.04" r="2.4" fill="#2367b6" stroke="#0e3c7c" stroke-width="0.8"/>
<circle cx="55.852" cy="224.96" r="2.4" fill="#2367b6" stroke="#0e3c7c" stroke-width="0.8"/>
<rect x="17.5" y="213.5" width="24.4" height="15" fill="#3d84cf" stroke="#0e3c7c" stroke-width="0.8"/>
<rect x="26.04" y="215.5" width="13.86" height="11" fill="#4d93d8" stroke="#0e3c7c" stroke-width="0.6"/>
<line x1="32.628" y1="220.1" x2="32.628" y2="229" stroke="#0e3c7c" stroke-width="1"/>
<circle cx="32.628" cy="220.1" r="1" fill="#0e3c7c"/>
<rect x="68" y="172.5" width="13.5" height="18" fill="#4d93d8" stroke="#0e3c7c" stroke-width="1.2"/>
<rect x="70" y="174.5" width="9.5" height="14" fill="#3d84cf" stroke="#0e3c7c" stroke-width="0.6"/>
<path d="M70 174.5 L76.25 181.5 L70 188.5" fill="#4d93d8" stroke="#0e3c7c" stroke-width="0.7"/>
<rect x="112.7" y="188.5" width="6.3" height="13.5" fill="#2367b6" stroke="#0e3c7c" stroke-width="1"/>
<ellipse cx="105.6" cy="195.25" rx="9.1" ry="5.75" fill="#2367b6" stroke="#0e3c7c" stroke-width="1.1"/>
<rect x="70" y="211.5" width="48.5" height="18.5" fill="#4d93d8" stroke="#0e3c7c" stroke-width="1.2" rx="1"/>
<rect x="72.5" y="214" width="43.5" height="13.5" rx="5" fill="#3d84cf" stroke="#0e3c7c" stroke-width="0.7"/>
<rect x="78" y="216.5" width="32.5" height="8.5" rx="4" fill="#2367b6" stroke="#0e3c7c" stroke-width="0.6"/>
<circle cx="77" cy="220.75" r="1.3" fill="#4d93d8" stroke="#0e3c7c" stroke-width="0.6"/>
<rect x="143.3" y="190.5" width="26.7" height="14" rx="6" fill="#2367b6" stroke="#0e3c7c" stroke-width="1.2"/>
<text x="156.65" y="199.1" font-size="4.6" text-anchor="middle" fill="#0e3c7c" font-weight="bold" letter-spacing="0.2">welcome</text>
<g transform="rotate(-40 208.5 35.5)"><rect x="186.5" y="30.5" width="44" height="10" fill="#2367b6" stroke="#0e3c7c" stroke-width="1.1"/><path d="M191.5 35.5 Q208.5 39 225.5 35.5 Q208.5 34 191.5 35.5Z" fill="#4d93d8" stroke="#0e3c7c" stroke-width="0.5"/></g>
<path d="M198 66 Q201.27 69.36 205.22 68.23 Q202.59 65.07 198 66Z" fill="#fff" stroke="#444" stroke-width="0.8" stroke-linejoin="round"/><path d="M198 66 Q198.27 69.68 201.22 71.00 Q201.24 67.76 198 66Z" fill="#fff" stroke="#444" stroke-width="0.8" stroke-linejoin="round"/><path d="M198 66 Q195.26 69.80 197.05 73.50 Q199.71 70.36 198 66Z" fill="#fff" stroke="#444" stroke-width="0.8" stroke-linejoin="round"/><path d="M198 66 Q194.42 66.90 193.64 70.04 Q196.83 69.50 198 66Z" fill="#fff" stroke="#444" stroke-width="0.8" stroke-linejoin="round"/><path d="M198 66 Q193.78 63.96 190.45 66.37 Q194.00 68.45 198 66Z" fill="#fff" stroke="#444" stroke-width="0.8" stroke-linejoin="round"/><path d="M198 66 Q196.49 62.63 193.26 62.40 Q194.35 65.45 198 66Z" fill="#fff" stroke="#444" stroke-width="0.8" stroke-linejoin="round"/><path d="M198 66 Q199.28 61.49 196.32 58.63 Q194.90 62.49 198 66Z" fill="#fff" stroke="#444" stroke-width="0.8" stroke-linejoin="round"/><path d="M198 66 Q201.05 63.93 200.72 60.71 Q197.91 62.31 198 66Z" fill="#fff" stroke="#444" stroke-width="0.8" stroke-linejoin="round"/><path d="M198 66 Q202.66 66.48 204.97 63.07 Q200.92 62.33 198 66Z" fill="#fff" stroke="#444" stroke-width="0.8" stroke-linejoin="round"/><circle cx="198" cy="66" r="1.3" fill="#555"/>
<rect x="189" y="92" width="11.5" height="44" fill="#2367b6" stroke="#0e3c7c" stroke-width="1"/>
<rect x="191.5" y="96" width="6.5" height="36" fill="none" stroke="#0e3c7c" stroke-width="0.6"/>
<path d="M193.55 106 L195.95 106 L194.75 120Z" fill="#0e3c7c"/>
<line x1="192" y1="100" x2="197.5" y2="100" stroke="#4d93d8" stroke-width="0.8"/>
<line x1="192" y1="126" x2="197.5" y2="126" stroke="#4d93d8" stroke-width="0.8"/>
<rect x="280" y="16.5" width="63" height="48" fill="#2367b6" stroke="#0e3c7c" stroke-width="1.3"/>
<rect x="336.5" y="16.5" width="6.5" height="48" fill="#3d84cf" stroke="#0e3c7c" stroke-width="0.9"/>
<line x1="336.5" y1="32.5" x2="343" y2="32.5" stroke="#0e3c7c" stroke-width="0.8"/>
<line x1="336.5" y1="48.5" x2="343" y2="48.5" stroke="#0e3c7c" stroke-width="0.8"/>
<rect x="311" y="22.74" width="12.3" height="14.4" fill="#4d93d8" stroke="#0e3c7c" stroke-width="0.9"/>
<line x1="312" y1="36.14" x2="322.3" y2="23.74" stroke="#0e3c7c" stroke-width="0.5"/>
<rect x="311" y="42.9" width="12.3" height="15.84" fill="#4d93d8" stroke="#0e3c7c" stroke-width="0.9"/>
<line x1="312" y1="57.74" x2="322.3" y2="43.9" stroke="#0e3c7c" stroke-width="0.5"/>
<rect x="324.5" y="22.74" width="10.5" height="14.4" fill="#4d93d8" stroke="#0e3c7c" stroke-width="0.9"/>
<line x1="325.5" y1="36.14" x2="334" y2="23.74" stroke="#0e3c7c" stroke-width="0.5"/>
<rect x="324.5" y="42.9" width="10.5" height="15.84" fill="#4d93d8" stroke="#0e3c7c" stroke-width="0.9"/>
<line x1="325.5" y1="57.74" x2="334" y2="43.9" stroke="#0e3c7c" stroke-width="0.5"/>
<path d="M283 60.5 Q294.73 40.5 306.46 18.5 M289 62.5 Q302.73 45.3 312.46 30.9 M285 38.1 Q293 30.9 301 18.5" fill="none" stroke="#0e3c7c" stroke-width="0.7"/>
<g transform="rotate(-90 307.5 82)"><path d="M307.50 65.00 C310.12 65.00 310.65 68.40 312.23 68.40 C313.80 65.51 318.00 67.55 316.95 72.14 C315.06 74.35 315.69 78.60 316.11 82.00 C315.69 86.25 315.06 89.14 316.53 91.86 C318.21 95.60 315.90 98.49 313.27 96.45 C311.70 97.30 309.60 99.00 307.50 98.15 C305.40 99.00 303.30 97.30 301.73 96.45 C299.10 98.49 296.79 95.60 298.47 91.86 C299.94 89.14 299.31 86.25 298.89 82.00 C299.31 78.60 299.94 74.35 298.05 72.14 C297.00 67.55 301.20 65.51 302.77 68.40 C304.35 68.40 304.88 65.00 307.50 65.00Z" fill="#b9d0ec" stroke="#9ab6da" stroke-width="0.7"/><path d="M302.25 74.86 Q302.77 71.46 307.50 71.80 Q312.23 71.46 312.75 74.86 Q310.65 76.90 307.50 75.88 Q304.35 76.90 302.25 74.86Z" fill="#fff" stroke="#6f8db8" stroke-width="0.5"/><path d="M305.19 74.52 q1.2 -1.6 2.4 0 M307.92 74.52 q1.2 -1.6 2.4 0" fill="none" stroke="#33527f" stroke-width="0.6"/><path d="M305.40 85.40 q-0.6 3.2 1.2 4 q1 -1.5 -1.2 -4z M309.60 85.40 q0.6 3.2 -1.2 4 q-1 -1.5 1.2 -4z" fill="#0e3c7c"/></g>
<g transform="rotate(41 255 100.5)"><rect x="239.5" y="96.18" width="6" height="8.64" rx="1.5" fill="#2367b6" stroke="#0e3c7c" stroke-width="0.9"/><rect x="250.68" y="85" width="8.64" height="6" rx="1.5" fill="#2367b6" stroke="#0e3c7c" stroke-width="0.9"/><rect x="250.68" y="110" width="8.64" height="6" rx="1.5" fill="#2367b6" stroke="#0e3c7c" stroke-width="0.9"/><rect x="243" y="88.5" width="24" height="24" rx="2.5" fill="#2367b6" stroke="#0e3c7c" stroke-width="1"/></g>
<rect x="274.5" y="119.5" width="16.5" height="16.5" fill="#2367b6" stroke="#0e3c7c" stroke-width="1.2"/>
<text x="282.75" y="136.35" font-size="19" text-anchor="middle" fill="#0e3c7c" font-weight="bold">*</text>
<rect x="302" y="120" width="41" height="16" fill="#2367b6" stroke="#0e3c7c" stroke-width="1.2"/>
<rect x="326.8" y="121.5" width="14.7" height="13" fill="#3d84cf" stroke="#0e3c7c" stroke-width="0.8"/>
<circle cx="330.916" cy="124.48" r="2.4" fill="#2367b6" stroke="#0e3c7c" stroke-width="0.8"/>
<circle cx="330.916" cy="131.52" r="2.4" fill="#2367b6" stroke="#0e3c7c" stroke-width="0.8"/>
<circle cx="337.384" cy="124.48" r="2.4" fill="#2367b6" stroke="#0e3c7c" stroke-width="0.8"/>
<circle cx="337.384" cy="131.52" r="2.4" fill="#2367b6" stroke="#0e3c7c" stroke-width="0.8"/>
<rect x="303.5" y="121.5" width="21.3" height="13" fill="#3d84cf" stroke="#0e3c7c" stroke-width="0.8"/>
<rect x="310.955" y="123.5" width="11.845" height="9" fill="#4d93d8" stroke="#0e3c7c" stroke-width="0.6"/>
<line x1="316.706" y1="127.2" x2="316.706" y2="135" stroke="#0e3c7c" stroke-width="1"/>
<circle cx="316.706" cy="127.2" r="1" fill="#0e3c7c"/>
<rect x="189" y="143" width="13.5" height="61.5" fill="#2367b6" stroke="#0e3c7c" stroke-width="1"/>
<line x1="195.75" y1="146" x2="195.75" y2="201.5" stroke="#0e3c7c" stroke-width="0.9"/>
<path d="M191.5 145.393 Q195.75 151.393 200 145.393" fill="none" stroke="#0e3c7c" stroke-width="0.8"/>
<path d="M191.5 154.179 Q195.75 160.179 200 154.179" fill="none" stroke="#0e3c7c" stroke-width="0.8"/>
<path d="M191.5 162.964 Q195.75 168.964 200 162.964" fill="none" stroke="#0e3c7c" stroke-width="0.8"/>
<path d="M191.5 171.75 Q195.75 177.75 200 171.75" fill="none" stroke="#0e3c7c" stroke-width="0.8"/>
<path d="M191.5 180.536 Q195.75 186.536 200 180.536" fill="none" stroke="#0e3c7c" stroke-width="0.8"/>
<path d="M191.5 189.321 Q195.75 195.321 200 189.321" fill="none" stroke="#0e3c7c" stroke-width="0.8"/>
<path d="M191.5 198.107 Q195.75 204.107 200 198.107" fill="none" stroke="#0e3c7c" stroke-width="0.8"/>
<rect x="212.5" y="191" width="27" height="13.5" rx="6" fill="#2367b6" stroke="#0e3c7c" stroke-width="1.2"/>
<text x="226" y="199.35" font-size="4.6" text-anchor="middle" fill="#0e3c7c" font-weight="bold" letter-spacing="0.2">welcome</text>
<circle cx="254.48" cy="151.49" r="3.36" fill="#fff" stroke="#5c5c5c" stroke-width="0.8"/><circle cx="259.27" cy="150.98" r="3.36" fill="#e3e8ea" stroke="#5c5c5c" stroke-width="0.8"/><circle cx="259.52" cy="154.76" r="3.36" fill="#fff" stroke="#5c5c5c" stroke-width="0.8"/><circle cx="255.24" cy="155.27" r="3.36" fill="#dfe5e8" stroke="#5c5c5c" stroke-width="0.8"/><circle cx="257" cy="153" r="1.80" fill="#eef1f2" stroke="#6a6a6a" stroke-width="0.6"/>
<polygon points="316,144 343.5,144 343.5,170 333.05,170 316,153.88" fill="#4d93d8" stroke="#0e3c7c" stroke-width="1.3"/>
<path d="M317 145 L342.5 169" stroke="#0e3c7c" stroke-width="0.6" fill="none"/>
<path d="M343.5 144 L329.75 157" stroke="#0e3c7c" stroke-width="0.6" fill="none"/>
<circle cx="329.75" cy="157" r="0.9" fill="#cfe6ff"/>
<rect x="337.06" y="174.5" width="6.44" height="12.5" fill="#2367b6" stroke="#0e3c7c" stroke-width="1"/>
<ellipse cx="329.78" cy="180.75" rx="9.28" ry="5.25" fill="#2367b6" stroke="#0e3c7c" stroke-width="1.1"/>
<rect x="280" y="180" width="19" height="13" fill="#4d93d8" stroke="#0e3c7c" stroke-width="1.2"/>
<rect x="282" y="182" width="15" height="9" fill="#3d84cf" stroke="#0e3c7c" stroke-width="0.6"/>
<path d="M282 191 L289.5 185 L297 191" fill="#4d93d8" stroke="#0e3c7c" stroke-width="0.7"/>
<rect x="352.5" y="36.5" width="12" height="44" fill="#2367b6" stroke="#0e3c7c" stroke-width="1"/>
<rect x="355" y="40.5" width="7" height="36" fill="none" stroke="#0e3c7c" stroke-width="0.6"/>
<path d="M357.3 50.5 L359.7 50.5 L358.5 64.5Z" fill="#0e3c7c"/>
<line x1="355.5" y1="44.5" x2="361.5" y2="44.5" stroke="#4d93d8" stroke-width="0.8"/>
<line x1="355.5" y1="70.5" x2="361.5" y2="70.5" stroke="#4d93d8" stroke-width="0.8"/>
<g transform="rotate(0 362.6 95.2)"><rect x="354.35" y="86.95" width="16.5" height="16.5" rx="1.5" fill="#2367b6" stroke="#0e3c7c" stroke-width="1.1"/><rect x="357.85" y="89.95" width="13" height="10.5" rx="1.5" fill="#2a70c2" stroke="#0e3c7c" stroke-width="0.7"/><rect x="357.1" y="95.7" width="6" height="6" fill="#4d93d8" transform="rotate(-30 360.1 98.7)"/><ellipse cx="365.1" cy="95.2" rx="3" ry="4" fill="#e6eef8" stroke="#0e3c7c" stroke-width="0.6"/><ellipse cx="366" cy="95.5" rx="1.3" ry="2" fill="#0e3c7c"/></g>
<g transform="rotate(0 393 49)"><rect x="377" y="44.5" width="6" height="9" rx="1.5" fill="#2367b6" stroke="#0e3c7c" stroke-width="0.9"/><rect x="403" y="44.5" width="6" height="9" rx="1.5" fill="#2367b6" stroke="#0e3c7c" stroke-width="0.9"/><rect x="388.5" y="59" width="9" height="6" rx="1.5" fill="#2367b6" stroke="#0e3c7c" stroke-width="0.9"/><rect x="380.5" y="36.5" width="25" height="25" rx="2.5" fill="#2367b6" stroke="#0e3c7c" stroke-width="1"/></g>
<circle cx="438.35" cy="45.41" r="3.53" fill="#fff" stroke="#5c5c5c" stroke-width="0.8"/><circle cx="443.38" cy="44.88" r="3.53" fill="#e3e8ea" stroke="#5c5c5c" stroke-width="0.8"/><circle cx="443.65" cy="48.85" r="3.53" fill="#fff" stroke="#5c5c5c" stroke-width="0.8"/><circle cx="439.15" cy="49.38" r="3.53" fill="#dfe5e8" stroke="#5c5c5c" stroke-width="0.8"/><circle cx="441" cy="47" r="1.89" fill="#eef1f2" stroke="#6a6a6a" stroke-width="0.6"/>
<rect x="410.5" y="67.5" width="11" height="37" fill="#2367b6" stroke="#0e3c7c" stroke-width="1"/>
<path d="M416 71.5 Q420 86 416 100.5 Q414 86 416 71.5Z" fill="#4d93d8" stroke="#0e3c7c" stroke-width="0.5"/>
<rect x="455" y="43" width="24" height="22.5" fill="#2367b6" stroke="#0e3c7c" stroke-width="1.2" rx="1"/>
<rect x="478" y="37.5" width="29.5" height="81.5" fill="#2367b6" stroke="#0e3c7c" stroke-width="1.2" rx="1"/>
<rect x="502.5" y="39.5" width="5" height="73" fill="#2368ba" stroke="#0e3c7c" stroke-width="0.7"/>
<line x1="478" y1="113" x2="507.5" y2="113" stroke="#0e3c7c" stroke-width="0.9"/>
<line x1="478" y1="65.5" x2="507.5" y2="65.5" stroke="#0e3c7c" stroke-width="0.6" opacity="0.6"/>
<rect x="495.2" y="40" width="7.6" height="11" rx="1.2" fill="#4d93d8" stroke="#2b6cb8" stroke-width="0.6" transform="rotate(-25 499 45.5)"/>
<rect x="497.9" y="51" width="7.6" height="11" rx="1.2" fill="#4d93d8" stroke="#2b6cb8" stroke-width="0.6" transform="rotate(-8 501.7 56.5)"/>
<rect x="497.9" y="88.5" width="7.6" height="11" rx="1.2" fill="#4d93d8" stroke="#2b6cb8" stroke-width="0.6" transform="rotate(8 501.7 94)"/>
<rect x="495.2" y="99.5" width="7.6" height="11" rx="1.2" fill="#4d93d8" stroke="#2b6cb8" stroke-width="0.6" transform="rotate(25 499 105)"/>
<rect x="408" y="119.5" width="16.5" height="16.5" fill="#2367b6" stroke="#0e3c7c" stroke-width="1.2"/>
<text x="416.25" y="136.35" font-size="19" text-anchor="middle" fill="#0e3c7c" font-weight="bold">*</text>
<rect x="352.5" y="120" width="40.5" height="16" fill="#2367b6" stroke="#0e3c7c" stroke-width="1.2"/>
<rect x="376.8" y="121.5" width="14.7" height="13" fill="#3d84cf" stroke="#0e3c7c" stroke-width="0.8"/>
<circle cx="380.916" cy="124.48" r="2.4" fill="#2367b6" stroke="#0e3c7c" stroke-width="0.8"/>
<circle cx="380.916" cy="131.52" r="2.4" fill="#2367b6" stroke="#0e3c7c" stroke-width="0.8"/>
<circle cx="387.384" cy="124.48" r="2.4" fill="#2367b6" stroke="#0e3c7c" stroke-width="0.8"/>
<circle cx="387.384" cy="131.52" r="2.4" fill="#2367b6" stroke="#0e3c7c" stroke-width="0.8"/>
<rect x="354" y="121.5" width="20.8" height="13" fill="#3d84cf" stroke="#0e3c7c" stroke-width="0.8"/>
<rect x="361.28" y="123.5" width="11.52" height="9" fill="#4d93d8" stroke="#0e3c7c" stroke-width="0.6"/>
<line x1="366.896" y1="127.2" x2="366.896" y2="135" stroke="#0e3c7c" stroke-width="1"/>
<circle cx="366.896" cy="127.2" r="1" fill="#0e3c7c"/>
<polygon points="352.5,144 380,144 380,153.88 362.95,170 352.5,170" fill="#4d93d8" stroke="#0e3c7c" stroke-width="1.3"/>
<path d="M379 145 L353.5 169" stroke="#0e3c7c" stroke-width="0.6" fill="none"/>
<path d="M352.5 144 L366.25 157" stroke="#0e3c7c" stroke-width="0.6" fill="none"/>
<circle cx="366.25" cy="157" r="0.9" fill="#cfe6ff"/>
<rect x="352.5" y="174.5" width="6.3" height="12.5" fill="#2367b6" stroke="#0e3c7c" stroke-width="1"/>
<ellipse cx="365.9" cy="180.75" rx="9.1" ry="5.25" fill="#2367b6" stroke="#0e3c7c" stroke-width="1.1"/>
<rect x="397" y="180" width="18.5" height="13" fill="#4d93d8" stroke="#0e3c7c" stroke-width="1.2"/>
<rect x="399" y="182" width="14.5" height="9" fill="#3d84cf" stroke="#0e3c7c" stroke-width="0.6"/>
<path d="M399 191 L406.25 185 L413.5 191" fill="#4d93d8" stroke="#0e3c7c" stroke-width="0.7"/>
<path d="M435 153.5 Q438.50 157.10 442.74 155.89 Q439.92 152.50 435 153.5Z" fill="#fff" stroke="#444" stroke-width="0.8" stroke-linejoin="round"/><path d="M435 153.5 Q435.29 157.44 438.45 158.86 Q438.47 155.39 435 153.5Z" fill="#fff" stroke="#444" stroke-width="0.8" stroke-linejoin="round"/><path d="M435 153.5 Q432.06 157.57 433.99 161.54 Q436.84 158.17 435 153.5Z" fill="#fff" stroke="#444" stroke-width="0.8" stroke-linejoin="round"/><path d="M435 153.5 Q431.17 154.47 430.32 157.83 Q433.74 157.25 435 153.5Z" fill="#fff" stroke="#444" stroke-width="0.8" stroke-linejoin="round"/><path d="M435 153.5 Q430.48 151.31 426.91 153.90 Q430.72 156.12 435 153.5Z" fill="#fff" stroke="#444" stroke-width="0.8" stroke-linejoin="round"/><path d="M435 153.5 Q433.38 149.89 429.92 149.65 Q431.09 152.91 435 153.5Z" fill="#fff" stroke="#444" stroke-width="0.8" stroke-linejoin="round"/><path d="M435 153.5 Q436.37 148.67 433.20 145.60 Q431.68 149.74 435 153.5Z" fill="#fff" stroke="#444" stroke-width="0.8" stroke-linejoin="round"/><path d="M435 153.5 Q438.27 151.28 437.91 147.83 Q434.90 149.55 435 153.5Z" fill="#fff" stroke="#444" stroke-width="0.8" stroke-linejoin="round"/><path d="M435 153.5 Q440.00 154.01 442.47 150.36 Q438.13 149.57 435 153.5Z" fill="#fff" stroke="#444" stroke-width="0.8" stroke-linejoin="round"/><circle cx="435" cy="153.5" r="1.3" fill="#555"/>
<rect x="493" y="144.5" width="14.5" height="45" fill="#2367b6" stroke="#0e3c7c" stroke-width="1"/>
<line x1="500.25" y1="147.5" x2="500.25" y2="186.5" stroke="#0e3c7c" stroke-width="0.9"/>
<path d="M495.5 147 Q500.25 153 505 147" fill="none" stroke="#0e3c7c" stroke-width="0.8"/>
<path d="M495.5 156 Q500.25 162 505 156" fill="none" stroke="#0e3c7c" stroke-width="0.8"/>
<path d="M495.5 165 Q500.25 171 505 165" fill="none" stroke="#0e3c7c" stroke-width="0.8"/>
<path d="M495.5 174 Q500.25 180 505 174" fill="none" stroke="#0e3c7c" stroke-width="0.8"/>
<path d="M495.5 183 Q500.25 189 505 183" fill="none" stroke="#0e3c7c" stroke-width="0.8"/>
<rect x="471" y="191" width="27" height="13.5" rx="6" fill="#2367b6" stroke="#0e3c7c" stroke-width="1.2"/>
<text x="484.5" y="199.35" font-size="4.6" text-anchor="middle" fill="#0e3c7c" font-weight="bold" letter-spacing="0.2">welcome</text>
<rect x="546.5" y="43" width="23" height="22.5" fill="#2367b6" stroke="#0e3c7c" stroke-width="1.2" rx="1"/>
<rect x="518" y="37.5" width="28.5" height="81.5" fill="#2367b6" stroke="#0e3c7c" stroke-width="1.2" rx="1"/>
<rect x="518" y="39.5" width="5" height="73" fill="#2368ba" stroke="#0e3c7c" stroke-width="0.7"/>
<line x1="518" y1="113" x2="546.5" y2="113" stroke="#0e3c7c" stroke-width="0.9"/>
<line x1="518" y1="65.5" x2="546.5" y2="65.5" stroke="#0e3c7c" stroke-width="0.6" opacity="0.6"/>
<rect x="522.7" y="40" width="7.6" height="11" rx="1.2" fill="#4d93d8" stroke="#2b6cb8" stroke-width="0.6" transform="rotate(25 526.5 45.5)"/>
<rect x="520" y="51" width="7.6" height="11" rx="1.2" fill="#4d93d8" stroke="#2b6cb8" stroke-width="0.6" transform="rotate(8 523.8 56.5)"/>
<rect x="520" y="88.5" width="7.6" height="11" rx="1.2" fill="#4d93d8" stroke="#2b6cb8" stroke-width="0.6" transform="rotate(-8 523.8 94)"/>
<rect x="522.7" y="99.5" width="7.6" height="11" rx="1.2" fill="#4d93d8" stroke="#2b6cb8" stroke-width="0.6" transform="rotate(-25 526.5 105)"/>
<circle cx="578.35" cy="45.41" r="3.53" fill="#fff" stroke="#5c5c5c" stroke-width="0.8"/><circle cx="583.38" cy="44.88" r="3.53" fill="#e3e8ea" stroke="#5c5c5c" stroke-width="0.8"/><circle cx="583.65" cy="48.85" r="3.53" fill="#fff" stroke="#5c5c5c" stroke-width="0.8"/><circle cx="579.15" cy="49.38" r="3.53" fill="#dfe5e8" stroke="#5c5c5c" stroke-width="0.8"/><circle cx="581" cy="47" r="1.89" fill="#eef1f2" stroke="#6a6a6a" stroke-width="0.6"/>
<g transform="rotate(0 631 49)"><rect x="615" y="44.5" width="6" height="9" rx="1.5" fill="#2367b6" stroke="#0e3c7c" stroke-width="0.9"/><rect x="641" y="44.5" width="6" height="9" rx="1.5" fill="#2367b6" stroke="#0e3c7c" stroke-width="0.9"/><rect x="626.5" y="59" width="9" height="6" rx="1.5" fill="#2367b6" stroke="#0e3c7c" stroke-width="0.9"/><rect x="618.5" y="36.5" width="25" height="25" rx="2.5" fill="#2367b6" stroke="#0e3c7c" stroke-width="1"/></g>
<rect x="602" y="67.5" width="12" height="37" fill="#2367b6" stroke="#0e3c7c" stroke-width="1"/>
<path d="M608 71.5 Q612 86 608 100.5 Q606 86 608 71.5Z" fill="#4d93d8" stroke="#0e3c7c" stroke-width="0.5"/>
<rect x="659.5" y="36.5" width="11.5" height="44" fill="#2367b6" stroke="#0e3c7c" stroke-width="1"/>
<rect x="662" y="40.5" width="6.5" height="36" fill="none" stroke="#0e3c7c" stroke-width="0.6"/>
<path d="M664.05 50.5 L666.45 50.5 L665.25 64.5Z" fill="#0e3c7c"/>
<line x1="662.5" y1="44.5" x2="668" y2="44.5" stroke="#4d93d8" stroke-width="0.8"/>
<line x1="662.5" y1="70.5" x2="668" y2="70.5" stroke="#4d93d8" stroke-width="0.8"/>
<g transform="rotate(180 661.5 95.5)"><rect x="653.25" y="87.25" width="16.5" height="16.5" rx="1.5" fill="#2367b6" stroke="#0e3c7c" stroke-width="1.1"/><rect x="656.75" y="90.25" width="13" height="10.5" rx="1.5" fill="#2a70c2" stroke="#0e3c7c" stroke-width="0.7"/><rect x="656" y="96" width="6" height="6" fill="#4d93d8" transform="rotate(-30 659 99)"/><ellipse cx="664" cy="95.5" rx="3" ry="4" fill="#e6eef8" stroke="#0e3c7c" stroke-width="0.6"/><ellipse cx="664.9" cy="95.8" rx="1.3" ry="2" fill="#0e3c7c"/></g>
<rect x="598" y="119.5" width="17.5" height="16.5" fill="#2367b6" stroke="#0e3c7c" stroke-width="1.2"/>
<text x="606.75" y="136.35" font-size="19" text-anchor="middle" fill="#0e3c7c" font-weight="bold">*</text>
<rect x="630" y="120" width="40.5" height="16" fill="#2367b6" stroke="#0e3c7c" stroke-width="1.2"/>
<rect x="631.5" y="121.5" width="14.7" height="13" fill="#3d84cf" stroke="#0e3c7c" stroke-width="0.8"/>
<circle cx="635.616" cy="124.48" r="2.4" fill="#2367b6" stroke="#0e3c7c" stroke-width="0.8"/>
<circle cx="635.616" cy="131.52" r="2.4" fill="#2367b6" stroke="#0e3c7c" stroke-width="0.8"/>
<circle cx="642.084" cy="124.48" r="2.4" fill="#2367b6" stroke="#0e3c7c" stroke-width="0.8"/>
<circle cx="642.084" cy="131.52" r="2.4" fill="#2367b6" stroke="#0e3c7c" stroke-width="0.8"/>
<rect x="648.2" y="121.5" width="20.8" height="13" fill="#3d84cf" stroke="#0e3c7c" stroke-width="0.8"/>
<rect x="655.48" y="123.5" width="11.52" height="9" fill="#4d93d8" stroke="#0e3c7c" stroke-width="0.6"/>
<line x1="661.096" y1="127.2" x2="661.096" y2="135" stroke="#0e3c7c" stroke-width="1"/>
<circle cx="661.096" cy="127.2" r="1" fill="#0e3c7c"/>
<rect x="516.5" y="144.5" width="14.5" height="45" fill="#2367b6" stroke="#0e3c7c" stroke-width="1"/>
<line x1="523.75" y1="147.5" x2="523.75" y2="186.5" stroke="#0e3c7c" stroke-width="0.9"/>
<path d="M519 147 Q523.75 153 528.5 147" fill="none" stroke="#0e3c7c" stroke-width="0.8"/>
<path d="M519 156 Q523.75 162 528.5 156" fill="none" stroke="#0e3c7c" stroke-width="0.8"/>
<path d="M519 165 Q523.75 171 528.5 165" fill="none" stroke="#0e3c7c" stroke-width="0.8"/>
<path d="M519 174 Q523.75 180 528.5 174" fill="none" stroke="#0e3c7c" stroke-width="0.8"/>
<path d="M519 183 Q523.75 189 528.5 183" fill="none" stroke="#0e3c7c" stroke-width="0.8"/>
<rect x="525.5" y="191" width="26.5" height="13.5" rx="6" fill="#2367b6" stroke="#0e3c7c" stroke-width="1.2"/>
<text x="538.75" y="199.35" font-size="4.6" text-anchor="middle" fill="#0e3c7c" font-weight="bold" letter-spacing="0.2">welcome</text>
<path d="M583.5 153.5 Q587.00 157.10 591.24 155.89 Q588.42 152.50 583.5 153.5Z" fill="#fff" stroke="#444" stroke-width="0.8" stroke-linejoin="round"/><path d="M583.5 153.5 Q583.79 157.44 586.95 158.86 Q586.97 155.39 583.5 153.5Z" fill="#fff" stroke="#444" stroke-width="0.8" stroke-linejoin="round"/><path d="M583.5 153.5 Q580.56 157.57 582.49 161.54 Q585.34 158.17 583.5 153.5Z" fill="#fff" stroke="#444" stroke-width="0.8" stroke-linejoin="round"/><path d="M583.5 153.5 Q579.67 154.47 578.82 157.83 Q582.24 157.25 583.5 153.5Z" fill="#fff" stroke="#444" stroke-width="0.8" stroke-linejoin="round"/><path d="M583.5 153.5 Q578.98 151.31 575.41 153.90 Q579.22 156.12 583.5 153.5Z" fill="#fff" stroke="#444" stroke-width="0.8" stroke-linejoin="round"/><path d="M583.5 153.5 Q581.88 149.89 578.42 149.65 Q579.59 152.91 583.5 153.5Z" fill="#fff" stroke="#444" stroke-width="0.8" stroke-linejoin="round"/><path d="M583.5 153.5 Q584.87 148.67 581.70 145.60 Q580.18 149.74 583.5 153.5Z" fill="#fff" stroke="#444" stroke-width="0.8" stroke-linejoin="round"/><path d="M583.5 153.5 Q586.77 151.28 586.41 147.83 Q583.40 149.55 583.5 153.5Z" fill="#fff" stroke="#444" stroke-width="0.8" stroke-linejoin="round"/><path d="M583.5 153.5 Q588.50 154.01 590.97 150.36 Q586.63 149.57 583.5 153.5Z" fill="#fff" stroke="#444" stroke-width="0.8" stroke-linejoin="round"/><circle cx="583.5" cy="153.5" r="1.3" fill="#555"/>
<rect x="609" y="180" width="18.5" height="13" fill="#4d93d8" stroke="#0e3c7c" stroke-width="1.2"/>
<rect x="611" y="182" width="14.5" height="9" fill="#3d84cf" stroke="#0e3c7c" stroke-width="0.6"/>
<path d="M611 191 L618.25 185 L625.5 191" fill="#4d93d8" stroke="#0e3c7c" stroke-width="0.7"/>
<polygon points="645,144.5 671.5,144.5 671.5,170 661.43,170 645,154.19" fill="#4d93d8" stroke="#0e3c7c" stroke-width="1.3"/>
<path d="M646 145.5 L670.5 169" stroke="#0e3c7c" stroke-width="0.6" fill="none"/>
<path d="M671.5 144.5 L658.25 157.25" stroke="#0e3c7c" stroke-width="0.6" fill="none"/>
<circle cx="658.25" cy="157.25" r="0.9" fill="#cfe6ff"/>
<rect x="665.2" y="174.5" width="6.3" height="13" fill="#2367b6" stroke="#0e3c7c" stroke-width="1"/>
<ellipse cx="658.1" cy="181" rx="9.1" ry="5.5" fill="#2367b6" stroke="#0e3c7c" stroke-width="1.1"/>
<rect x="681" y="23" width="63" height="47.5" fill="#2367b6" stroke="#0e3c7c" stroke-width="1.3"/>
<rect x="681" y="23" width="6.5" height="47.5" fill="#3d84cf" stroke="#0e3c7c" stroke-width="0.9"/>
<line x1="681" y1="38.8333" x2="687.5" y2="38.8333" stroke="#0e3c7c" stroke-width="0.8"/>
<line x1="681" y1="54.6667" x2="687.5" y2="54.6667" stroke="#0e3c7c" stroke-width="0.8"/>
<rect x="700.7" y="29.175" width="12.3" height="14.25" fill="#4d93d8" stroke="#0e3c7c" stroke-width="0.9"/>
<line x1="701.7" y1="42.425" x2="712" y2="30.175" stroke="#0e3c7c" stroke-width="0.5"/>
<rect x="700.7" y="49.125" width="12.3" height="15.675" fill="#4d93d8" stroke="#0e3c7c" stroke-width="0.9"/>
<line x1="701.7" y1="63.8" x2="712" y2="50.125" stroke="#0e3c7c" stroke-width="0.5"/>
<rect x="689" y="29.175" width="10.5" height="14.25" fill="#4d93d8" stroke="#0e3c7c" stroke-width="0.9"/>
<line x1="690" y1="42.425" x2="698.5" y2="30.175" stroke="#0e3c7c" stroke-width="0.5"/>
<rect x="689" y="49.125" width="10.5" height="15.675" fill="#4d93d8" stroke="#0e3c7c" stroke-width="0.9"/>
<line x1="690" y1="63.8" x2="698.5" y2="50.125" stroke="#0e3c7c" stroke-width="0.5"/>
<path d="M741 66.5 Q729.27 46.75 717.54 25 M735 68.5 Q721.27 51.5 711.54 37.25 M739 44.375 Q731 37.25 723 25" fill="none" stroke="#0e3c7c" stroke-width="0.7"/>
<g transform="rotate(-90 712.2 86)"><path d="M712.20 68.75 C714.95 68.75 715.50 72.20 717.15 72.20 C718.80 69.27 723.20 71.34 722.10 76.00 C720.12 78.24 720.78 82.55 721.22 86.00 C720.78 90.31 720.12 93.25 721.66 96.00 C723.42 99.80 721.00 102.73 718.25 100.66 C716.60 101.53 714.40 103.25 712.20 102.39 C710.00 103.25 707.80 101.53 706.15 100.66 C703.40 102.73 700.98 99.80 702.74 96.00 C704.28 93.25 703.62 90.31 703.18 86.00 C703.62 82.55 704.28 78.24 702.30 76.00 C701.20 71.34 705.60 69.27 707.25 72.20 C708.90 72.20 709.45 68.75 712.20 68.75Z" fill="#b9d0ec" stroke="#9ab6da" stroke-width="0.7"/><path d="M706.70 78.75 Q707.25 75.31 712.20 75.65 Q717.15 75.31 717.70 78.75 Q715.50 80.83 712.20 79.79 Q708.90 80.83 706.70 78.75Z" fill="#fff" stroke="#6f8db8" stroke-width="0.5"/><path d="M709.78 78.41 q1.2 -1.6 2.4 0 M712.64 78.41 q1.2 -1.6 2.4 0" fill="none" stroke="#33527f" stroke-width="0.6"/><path d="M710.00 89.45 q-0.6 3.2 1.2 4 q1 -1.5 -1.2 -4z M714.40 89.45 q0.6 3.2 -1.2 4 q-1 -1.5 1.2 -4z" fill="#0e3c7c"/></g>
<g transform="rotate(49 767 104)"><rect x="751.5" y="99.68" width="6" height="8.64" rx="1.5" fill="#2367b6" stroke="#0e3c7c" stroke-width="0.9"/><rect x="762.68" y="88.5" width="8.64" height="6" rx="1.5" fill="#2367b6" stroke="#0e3c7c" stroke-width="0.9"/><rect x="776.5" y="99.68" width="6" height="8.64" rx="1.5" fill="#2367b6" stroke="#0e3c7c" stroke-width="0.9"/><rect x="755" y="92" width="24" height="24" rx="2.5" fill="#2367b6" stroke="#0e3c7c" stroke-width="1"/></g>
<g transform="rotate(40 817.3 42.5)"><rect x="795.3" y="37.5" width="44" height="10" fill="#2367b6" stroke="#0e3c7c" stroke-width="1.1"/><path d="M800.3 42.5 Q817.3 46 834.3 42.5 Q817.3 41 800.3 42.5Z" fill="#4d93d8" stroke="#0e3c7c" stroke-width="0.5"/></g>
<path d="M823.5 72 Q826.77 75.36 830.72 74.23 Q828.09 71.07 823.5 72Z" fill="#fff" stroke="#444" stroke-width="0.8" stroke-linejoin="round"/><path d="M823.5 72 Q823.77 75.68 826.72 77.00 Q826.74 73.76 823.5 72Z" fill="#fff" stroke="#444" stroke-width="0.8" stroke-linejoin="round"/><path d="M823.5 72 Q820.76 75.80 822.55 79.50 Q825.21 76.36 823.5 72Z" fill="#fff" stroke="#444" stroke-width="0.8" stroke-linejoin="round"/><path d="M823.5 72 Q819.92 72.90 819.14 76.04 Q822.33 75.50 823.5 72Z" fill="#fff" stroke="#444" stroke-width="0.8" stroke-linejoin="round"/><path d="M823.5 72 Q819.28 69.96 815.95 72.37 Q819.50 74.45 823.5 72Z" fill="#fff" stroke="#444" stroke-width="0.8" stroke-linejoin="round"/><path d="M823.5 72 Q821.99 68.63 818.76 68.40 Q819.85 71.45 823.5 72Z" fill="#fff" stroke="#444" stroke-width="0.8" stroke-linejoin="round"/><path d="M823.5 72 Q824.78 67.49 821.82 64.63 Q820.40 68.49 823.5 72Z" fill="#fff" stroke="#444" stroke-width="0.8" stroke-linejoin="round"/><path d="M823.5 72 Q826.55 69.93 826.22 66.71 Q823.41 68.31 823.5 72Z" fill="#fff" stroke="#444" stroke-width="0.8" stroke-linejoin="round"/><path d="M823.5 72 Q828.16 72.48 830.47 69.07 Q826.42 68.33 823.5 72Z" fill="#fff" stroke="#444" stroke-width="0.8" stroke-linejoin="round"/><circle cx="823.5" cy="72" r="1.3" fill="#555"/>
<rect x="825" y="89" width="12.5" height="44" fill="#2367b6" stroke="#0e3c7c" stroke-width="1"/>
<rect x="827.5" y="93" width="7.5" height="36" fill="none" stroke="#0e3c7c" stroke-width="0.6"/>
<path d="M830.05 103 L832.45 103 L831.25 117Z" fill="#0e3c7c"/>
<line x1="828" y1="97" x2="834.5" y2="97" stroke="#4d93d8" stroke-width="0.8"/>
<line x1="828" y1="123" x2="834.5" y2="123" stroke="#4d93d8" stroke-width="0.8"/>
<rect x="680.5" y="120" width="40.5" height="16" fill="#2367b6" stroke="#0e3c7c" stroke-width="1.2"/>
<rect x="704.8" y="121.5" width="14.7" height="13" fill="#3d84cf" stroke="#0e3c7c" stroke-width="0.8"/>
<circle cx="708.916" cy="124.48" r="2.4" fill="#2367b6" stroke="#0e3c7c" stroke-width="0.8"/>
<circle cx="708.916" cy="131.52" r="2.4" fill="#2367b6" stroke="#0e3c7c" stroke-width="0.8"/>
<circle cx="715.384" cy="124.48" r="2.4" fill="#2367b6" stroke="#0e3c7c" stroke-width="0.8"/>
<circle cx="715.384" cy="131.52" r="2.4" fill="#2367b6" stroke="#0e3c7c" stroke-width="0.8"/>
<rect x="682" y="121.5" width="20.8" height="13" fill="#3d84cf" stroke="#0e3c7c" stroke-width="0.8"/>
<rect x="689.28" y="123.5" width="11.52" height="9" fill="#4d93d8" stroke="#0e3c7c" stroke-width="0.6"/>
<line x1="694.896" y1="127.2" x2="694.896" y2="135" stroke="#0e3c7c" stroke-width="1"/>
<circle cx="694.896" cy="127.2" r="1" fill="#0e3c7c"/>
<rect x="736" y="120" width="16.5" height="16" fill="#2367b6" stroke="#0e3c7c" stroke-width="1.2"/>
<text x="744.25" y="136.6" font-size="19" text-anchor="middle" fill="#0e3c7c" font-weight="bold">*</text>
<polygon points="680.5,144.5 707,144.5 707,154.19 690.57,170 680.5,170" fill="#4d93d8" stroke="#0e3c7c" stroke-width="1.3"/>
<path d="M706 145.5 L681.5 169" stroke="#0e3c7c" stroke-width="0.6" fill="none"/>
<path d="M680.5 144.5 L693.75 157.25" stroke="#0e3c7c" stroke-width="0.6" fill="none"/>
<circle cx="693.75" cy="157.25" r="0.9" fill="#cfe6ff"/>
<rect x="680.5" y="174.5" width="6.02" height="13" fill="#2367b6" stroke="#0e3c7c" stroke-width="1"/>
<ellipse cx="693.26" cy="181" rx="8.74" ry="5.5" fill="#2367b6" stroke="#0e3c7c" stroke-width="1.1"/>
<rect x="724.5" y="180.5" width="18" height="12.5" fill="#4d93d8" stroke="#0e3c7c" stroke-width="1.2"/>
<rect x="726.5" y="182.5" width="14" height="8.5" fill="#3d84cf" stroke="#0e3c7c" stroke-width="0.6"/>
<path d="M726.5 191 L733.5 185.25 L740.5 191" fill="#4d93d8" stroke="#0e3c7c" stroke-width="0.7"/>
<circle cx="761.85" cy="151.41" r="3.53" fill="#fff" stroke="#5c5c5c" stroke-width="0.8"/><circle cx="766.88" cy="150.88" r="3.53" fill="#e3e8ea" stroke="#5c5c5c" stroke-width="0.8"/><circle cx="767.15" cy="154.85" r="3.53" fill="#fff" stroke="#5c5c5c" stroke-width="0.8"/><circle cx="762.65" cy="155.38" r="3.53" fill="#dfe5e8" stroke="#5c5c5c" stroke-width="0.8"/><circle cx="764.5" cy="153" r="1.89" fill="#eef1f2" stroke="#6a6a6a" stroke-width="0.6"/>
<rect x="784" y="191" width="26.5" height="13.5" rx="6" fill="#2367b6" stroke="#0e3c7c" stroke-width="1.2"/>
<text x="797.25" y="199.35" font-size="4.6" text-anchor="middle" fill="#0e3c7c" font-weight="bold" letter-spacing="0.2">welcome</text>
<rect x="824" y="144" width="14" height="60" fill="#2367b6" stroke="#0e3c7c" stroke-width="1"/>
<line x1="831" y1="147" x2="831" y2="201" stroke="#0e3c7c" stroke-width="0.9"/>
<path d="M826.5 146.286 Q831 152.286 835.5 146.286" fill="none" stroke="#0e3c7c" stroke-width="0.8"/>
<path d="M826.5 154.857 Q831 160.857 835.5 154.857" fill="none" stroke="#0e3c7c" stroke-width="0.8"/>
<path d="M826.5 163.429 Q831 169.429 835.5 163.429" fill="none" stroke="#0e3c7c" stroke-width="0.8"/>
<path d="M826.5 172 Q831 178 835.5 172" fill="none" stroke="#0e3c7c" stroke-width="0.8"/>
<path d="M826.5 180.571 Q831 186.571 835.5 180.571" fill="none" stroke="#0e3c7c" stroke-width="0.8"/>
<path d="M826.5 189.143 Q831 195.143 835.5 189.143" fill="none" stroke="#0e3c7c" stroke-width="0.8"/>
<path d="M826.5 197.714 Q831 203.714 835.5 197.714" fill="none" stroke="#0e3c7c" stroke-width="0.8"/>
<circle cx="853.85" cy="27.91" r="3.53" fill="#fff" stroke="#5c5c5c" stroke-width="0.8"/><circle cx="858.88" cy="27.38" r="3.53" fill="#e3e8ea" stroke="#5c5c5c" stroke-width="0.8"/><circle cx="859.15" cy="31.35" r="3.53" fill="#fff" stroke="#5c5c5c" stroke-width="0.8"/><circle cx="854.65" cy="31.88" r="3.53" fill="#dfe5e8" stroke="#5c5c5c" stroke-width="0.8"/><circle cx="856.5" cy="29.5" r="1.89" fill="#eef1f2" stroke="#6a6a6a" stroke-width="0.6"/>
<rect x="848.5" y="38" width="13.5" height="42.5" fill="#2367b6" stroke="#0e3c7c" stroke-width="1"/>
<path d="M855.25 42 Q859.25 59.25 855.25 76.5 Q853.25 59.25 855.25 42Z" fill="#4d93d8" stroke="#0e3c7c" stroke-width="0.5"/>
<path d="M859.5 91 Q862.77 94.36 866.72 93.23 Q864.09 90.07 859.5 91Z" fill="#fff" stroke="#444" stroke-width="0.8" stroke-linejoin="round"/><path d="M859.5 91 Q859.77 94.68 862.72 96.00 Q862.74 92.76 859.5 91Z" fill="#fff" stroke="#444" stroke-width="0.8" stroke-linejoin="round"/><path d="M859.5 91 Q856.76 94.80 858.55 98.50 Q861.21 95.36 859.5 91Z" fill="#fff" stroke="#444" stroke-width="0.8" stroke-linejoin="round"/><path d="M859.5 91 Q855.92 91.90 855.14 95.04 Q858.33 94.50 859.5 91Z" fill="#fff" stroke="#444" stroke-width="0.8" stroke-linejoin="round"/><path d="M859.5 91 Q855.28 88.96 851.95 91.37 Q855.50 93.45 859.5 91Z" fill="#fff" stroke="#444" stroke-width="0.8" stroke-linejoin="round"/><path d="M859.5 91 Q857.99 87.63 854.76 87.40 Q855.85 90.45 859.5 91Z" fill="#fff" stroke="#444" stroke-width="0.8" stroke-linejoin="round"/><path d="M859.5 91 Q860.78 86.49 857.82 83.63 Q856.40 87.49 859.5 91Z" fill="#fff" stroke="#444" stroke-width="0.8" stroke-linejoin="round"/><path d="M859.5 91 Q862.55 88.93 862.22 85.71 Q859.41 87.31 859.5 91Z" fill="#fff" stroke="#444" stroke-width="0.8" stroke-linejoin="round"/><path d="M859.5 91 Q864.16 91.48 866.47 88.07 Q862.42 87.33 859.5 91Z" fill="#fff" stroke="#444" stroke-width="0.8" stroke-linejoin="round"/><circle cx="859.5" cy="91" r="1.3" fill="#555"/>
<rect x="945" y="28" width="23" height="23" fill="#2367b6" stroke="#0e3c7c" stroke-width="1.2" rx="1"/>
<rect x="967.5" y="23" width="28.5" height="81.5" fill="#2367b6" stroke="#0e3c7c" stroke-width="1.2" rx="1"/>
<rect x="991" y="25" width="5" height="73" fill="#2368ba" stroke="#0e3c7c" stroke-width="0.7"/>
<line x1="967.5" y1="98.5" x2="996" y2="98.5" stroke="#0e3c7c" stroke-width="0.9"/>
<line x1="967.5" y1="51" x2="996" y2="51" stroke="#0e3c7c" stroke-width="0.6" opacity="0.6"/>
<rect x="983.7" y="25.5" width="7.6" height="11" rx="1.2" fill="#4d93d8" stroke="#2b6cb8" stroke-width="0.6" transform="rotate(-25 987.5 31)"/>
<rect x="986.4" y="36.5" width="7.6" height="11" rx="1.2" fill="#4d93d8" stroke="#2b6cb8" stroke-width="0.6" transform="rotate(-8 990.2 42)"/>
<rect x="986.4" y="74" width="7.6" height="11" rx="1.2" fill="#4d93d8" stroke="#2b6cb8" stroke-width="0.6" transform="rotate(8 990.2 79.5)"/>
<rect x="983.7" y="85" width="7.6" height="11" rx="1.2" fill="#4d93d8" stroke="#2b6cb8" stroke-width="0.6" transform="rotate(25 987.5 90.5)"/>
<g transform="rotate(0 948 76.5)"><path d="M948.00 59.00 C950.75 59.00 951.30 62.50 952.95 62.50 C954.60 59.53 959.00 61.62 957.90 66.35 C955.92 68.62 956.58 73.00 957.02 76.50 C956.58 80.88 955.92 83.85 957.46 86.65 C959.22 90.50 956.80 93.47 954.05 91.38 C952.40 92.25 950.20 94.00 948.00 93.12 C945.80 94.00 943.60 92.25 941.95 91.38 C939.20 93.47 936.78 90.50 938.54 86.65 C940.08 83.85 939.42 80.88 938.98 76.50 C939.42 73.00 940.08 68.62 938.10 66.35 C937.00 61.62 941.40 59.53 943.05 62.50 C944.70 62.50 945.25 59.00 948.00 59.00Z" fill="#b9d0ec" stroke="#9ab6da" stroke-width="0.7"/><path d="M942.50 69.15 Q943.05 65.65 948.00 66.00 Q952.95 65.65 953.50 69.15 Q951.30 71.25 948.00 70.20 Q944.70 71.25 942.50 69.15Z" fill="#fff" stroke="#6f8db8" stroke-width="0.5"/><path d="M945.58 68.80 q1.2 -1.6 2.4 0 M948.44 68.80 q1.2 -1.6 2.4 0" fill="none" stroke="#33527f" stroke-width="0.6"/><path d="M945.80 80.00 q-0.6 3.2 1.2 4 q1 -1.5 -1.2 -4z M950.20 80.00 q0.6 3.2 -1.2 4 q-1 -1.5 1.2 -4z" fill="#0e3c7c"/></g>
<rect x="892.5" y="123" width="45.5" height="14.5" fill="#2367b6" stroke="#0e3c7c" stroke-width="1"/>
<line x1="895.5" y1="130.25" x2="935" y2="130.25" stroke="#0e3c7c" stroke-width="0.9"/>
<path d="M894.292 125.5 Q900.292 130.25 894.292 135" fill="none" stroke="#0e3c7c" stroke-width="0.8"/>
<path d="M901.875 125.5 Q907.875 130.25 901.875 135" fill="none" stroke="#0e3c7c" stroke-width="0.8"/>
<path d="M909.458 125.5 Q915.458 130.25 909.458 135" fill="none" stroke="#0e3c7c" stroke-width="0.8"/>
<path d="M917.042 125.5 Q923.042 130.25 917.042 135" fill="none" stroke="#0e3c7c" stroke-width="0.8"/>
<path d="M924.625 125.5 Q930.625 130.25 924.625 135" fill="none" stroke="#0e3c7c" stroke-width="0.8"/>
<path d="M932.208 125.5 Q938.208 130.25 932.208 135" fill="none" stroke="#0e3c7c" stroke-width="0.8"/>
<rect x="982.5" y="109" width="12" height="44" fill="#2367b6" stroke="#0e3c7c" stroke-width="1"/>
<rect x="985" y="113" width="7" height="36" fill="none" stroke="#0e3c7c" stroke-width="0.6"/>
<path d="M987.3 123 L989.7 123 L988.5 137Z" fill="#0e3c7c"/>
<line x1="985.5" y1="117" x2="991.5" y2="117" stroke="#4d93d8" stroke-width="0.8"/>
<line x1="985.5" y1="143" x2="991.5" y2="143" stroke="#4d93d8" stroke-width="0.8"/>
<circle cx="947.85" cy="152.41" r="3.53" fill="#fff" stroke="#5c5c5c" stroke-width="0.8"/><circle cx="952.88" cy="151.88" r="3.53" fill="#e3e8ea" stroke="#5c5c5c" stroke-width="0.8"/><circle cx="953.15" cy="155.85" r="3.53" fill="#fff" stroke="#5c5c5c" stroke-width="0.8"/><circle cx="948.65" cy="156.38" r="3.53" fill="#dfe5e8" stroke="#5c5c5c" stroke-width="0.8"/><circle cx="950.5" cy="154" r="1.89" fill="#eef1f2" stroke="#6a6a6a" stroke-width="0.6"/>
<rect x="989" y="162" width="18.5" height="17.5" fill="#2367b6" stroke="#0e3c7c" stroke-width="1.2"/>
<text x="998.25" y="179.35" font-size="19" text-anchor="middle" fill="#0e3c7c" font-weight="bold">*</text>
<rect x="942" y="172" width="13" height="18" fill="#4d93d8" stroke="#0e3c7c" stroke-width="1.2"/>
<rect x="944" y="174" width="9" height="14" fill="#3d84cf" stroke="#0e3c7c" stroke-width="0.6"/>
<path d="M953 174 L947 181 L953 188" fill="#4d93d8" stroke="#0e3c7c" stroke-width="0.7"/>
<rect x="904" y="186" width="6.16" height="14" fill="#2367b6" stroke="#0e3c7c" stroke-width="1"/>
<ellipse cx="917.08" cy="193" rx="8.92" ry="6" fill="#2367b6" stroke="#0e3c7c" stroke-width="1.1"/>
<rect x="905" y="211.5" width="50" height="18" fill="#4d93d8" stroke="#0e3c7c" stroke-width="1.2" rx="1"/>
<rect x="907.5" y="214" width="45" height="13" rx="5" fill="#3d84cf" stroke="#0e3c7c" stroke-width="0.7"/>
<rect x="913" y="216.5" width="34" height="8" rx="4" fill="#2367b6" stroke="#0e3c7c" stroke-width="0.6"/>
<circle cx="948" cy="220.5" r="1.3" fill="#4d93d8" stroke="#0e3c7c" stroke-width="0.6"/>
<rect x="962.5" y="212.5" width="45" height="17.5" fill="#2367b6" stroke="#0e3c7c" stroke-width="1.2"/>
<rect x="989.875" y="214" width="16.125" height="14.5" fill="#3d84cf" stroke="#0e3c7c" stroke-width="0.8"/>
<circle cx="994.39" cy="217.4" r="2.4" fill="#2367b6" stroke="#0e3c7c" stroke-width="0.8"/>
<circle cx="994.39" cy="225.1" r="2.4" fill="#2367b6" stroke="#0e3c7c" stroke-width="0.8"/>
<circle cx="1001.49" cy="217.4" r="2.4" fill="#2367b6" stroke="#0e3c7c" stroke-width="0.8"/>
<circle cx="1001.49" cy="225.1" r="2.4" fill="#2367b6" stroke="#0e3c7c" stroke-width="0.8"/>
<rect x="964" y="214" width="23.875" height="14.5" fill="#3d84cf" stroke="#0e3c7c" stroke-width="0.8"/>
<rect x="972.356" y="216" width="13.5187" height="10.5" fill="#4d93d8" stroke="#0e3c7c" stroke-width="0.6"/>
<line x1="978.803" y1="220.375" x2="978.803" y2="229" stroke="#0e3c7c" stroke-width="1"/>
<circle cx="978.803" cy="220.375" r="1" fill="#0e3c7c"/>
<rect x="853" y="188" width="26" height="14" rx="6" fill="#2367b6" stroke="#0e3c7c" stroke-width="1.2"/>
<text x="866" y="196.6" font-size="4.6" text-anchor="middle" fill="#0e3c7c" font-weight="bold" letter-spacing="0.2">welcome</text>
<rect x="962.5" y="240.5" width="45" height="17.5" fill="#2367b6" stroke="#0e3c7c" stroke-width="1.2"/>
<rect x="964" y="242" width="16.125" height="14.5" fill="#3d84cf" stroke="#0e3c7c" stroke-width="0.8"/>
<circle cx="968.515" cy="245.4" r="2.4" fill="#2367b6" stroke="#0e3c7c" stroke-width="0.8"/>
<circle cx="968.515" cy="253.1" r="2.4" fill="#2367b6" stroke="#0e3c7c" stroke-width="0.8"/>
<circle cx="975.61" cy="245.4" r="2.4" fill="#2367b6" stroke="#0e3c7c" stroke-width="0.8"/>
<circle cx="975.61" cy="253.1" r="2.4" fill="#2367b6" stroke="#0e3c7c" stroke-width="0.8"/>
<rect x="982.125" y="242" width="23.875" height="14.5" fill="#3d84cf" stroke="#0e3c7c" stroke-width="0.8"/>
<rect x="990.481" y="244" width="13.5187" height="10.5" fill="#4d93d8" stroke="#0e3c7c" stroke-width="0.6"/>
<line x1="996.928" y1="248.375" x2="996.928" y2="257" stroke="#0e3c7c" stroke-width="1"/>
<circle cx="996.928" cy="248.375" r="1" fill="#0e3c7c"/>
<rect x="908.5" y="240.5" width="12.5" height="6.16" fill="#2367b6" stroke="#0e3c7c" stroke-width="1"/>
<ellipse cx="914.75" cy="253.58" rx="5.25" ry="8.92" fill="#2367b6" stroke="#0e3c7c" stroke-width="1.1"/>
<polygon points="928,240.5 955,240.5 955,267 944.74,267 928,250.57" fill="#4d93d8" stroke="#0e3c7c" stroke-width="1.3"/>
<path d="M929 241.5 L954 266" stroke="#0e3c7c" stroke-width="0.6" fill="none"/>
<path d="M955 240.5 L941.5 253.75" stroke="#0e3c7c" stroke-width="0.6" fill="none"/>
<circle cx="941.5" cy="253.75" r="0.9" fill="#cfe6ff"/>
<rect x="942" y="287" width="13" height="18.5" fill="#4d93d8" stroke="#0e3c7c" stroke-width="1.2"/>
<rect x="944" y="289" width="9" height="14.5" fill="#3d84cf" stroke="#0e3c7c" stroke-width="0.6"/>
<path d="M953 289 L947 296.25 L953 303.5" fill="#4d93d8" stroke="#0e3c7c" stroke-width="0.7"/>
<rect x="988.5" y="289.5" width="19" height="18" fill="#2367b6" stroke="#0e3c7c" stroke-width="1.2"/>
<text x="998" y="307.1" font-size="19" text-anchor="middle" fill="#0e3c7c" font-weight="bold">*</text>
<g transform="rotate(0 957 334.5)"><rect x="952.5" y="318.5" width="9" height="6" rx="1.5" fill="#2367b6" stroke="#0e3c7c" stroke-width="0.9"/><rect x="952.5" y="344.5" width="9" height="6" rx="1.5" fill="#2367b6" stroke="#0e3c7c" stroke-width="0.9"/><rect x="967" y="330" width="6" height="9" rx="1.5" fill="#2367b6" stroke="#0e3c7c" stroke-width="0.9"/><rect x="944.5" y="322" width="25" height="25" rx="2.5" fill="#2367b6" stroke="#0e3c7c" stroke-width="1"/></g>
<rect x="853" y="264.5" width="26" height="12" rx="6" fill="#2367b6" stroke="#0e3c7c" stroke-width="1.2"/>
<text x="866" y="272.1" font-size="4.6" text-anchor="middle" fill="#0e3c7c" font-weight="bold" letter-spacing="0.2">welcome</text>
<rect x="848" y="291" width="14" height="45" fill="#2367b6" stroke="#0e3c7c" stroke-width="1"/>
<line x1="855" y1="294" x2="855" y2="333" stroke="#0e3c7c" stroke-width="0.9"/>
<path d="M850.5 293.5 Q855 299.5 859.5 293.5" fill="none" stroke="#0e3c7c" stroke-width="0.8"/>
<path d="M850.5 302.5 Q855 308.5 859.5 302.5" fill="none" stroke="#0e3c7c" stroke-width="0.8"/>
<path d="M850.5 311.5 Q855 317.5 859.5 311.5" fill="none" stroke="#0e3c7c" stroke-width="0.8"/>
<path d="M850.5 320.5 Q855 326.5 859.5 320.5" fill="none" stroke="#0e3c7c" stroke-width="0.8"/>
<path d="M850.5 329.5 Q855 335.5 859.5 329.5" fill="none" stroke="#0e3c7c" stroke-width="0.8"/>
<rect x="892.5" y="345.5" width="45.5" height="14.5" fill="#2367b6" stroke="#0e3c7c" stroke-width="1"/>
<line x1="895.5" y1="352.75" x2="935" y2="352.75" stroke="#0e3c7c" stroke-width="0.9"/>
<path d="M894.292 348 Q900.292 352.75 894.292 357.5" fill="none" stroke="#0e3c7c" stroke-width="0.8"/>
<path d="M901.875 348 Q907.875 352.75 901.875 357.5" fill="none" stroke="#0e3c7c" stroke-width="0.8"/>
<path d="M909.458 348 Q915.458 352.75 909.458 357.5" fill="none" stroke="#0e3c7c" stroke-width="0.8"/>
<path d="M917.042 348 Q923.042 352.75 917.042 357.5" fill="none" stroke="#0e3c7c" stroke-width="0.8"/>
<path d="M924.625 348 Q930.625 352.75 924.625 357.5" fill="none" stroke="#0e3c7c" stroke-width="0.8"/>
<path d="M932.208 348 Q938.208 352.75 932.208 357.5" fill="none" stroke="#0e3c7c" stroke-width="0.8"/>
<rect x="982.5" y="354" width="12" height="44" fill="#2367b6" stroke="#0e3c7c" stroke-width="1"/>
<rect x="985" y="358" width="7" height="36" fill="none" stroke="#0e3c7c" stroke-width="0.6"/>
<path d="M987.3 368 L989.7 368 L988.5 382Z" fill="#0e3c7c"/>
<line x1="985.5" y1="362" x2="991.5" y2="362" stroke="#4d93d8" stroke-width="0.8"/>
<line x1="985.5" y1="388" x2="991.5" y2="388" stroke="#4d93d8" stroke-width="0.8"/>
<g transform="rotate(-90 953 401.5)"><path d="M953.00 383.50 C955.75 383.50 956.30 387.10 957.95 387.10 C959.60 384.04 964.00 386.20 962.90 391.06 C960.92 393.40 961.58 397.90 962.02 401.50 C961.58 406.00 960.92 409.06 962.46 411.94 C964.22 415.90 961.80 418.96 959.05 416.80 C957.40 417.70 955.20 419.50 953.00 418.60 C950.80 419.50 948.60 417.70 946.95 416.80 C944.20 418.96 941.78 415.90 943.54 411.94 C945.08 409.06 944.42 406.00 943.98 401.50 C944.42 397.90 945.08 393.40 943.10 391.06 C942.00 386.20 946.40 384.04 948.05 387.10 C949.70 387.10 950.25 383.50 953.00 383.50Z" fill="#b9d0ec" stroke="#9ab6da" stroke-width="0.7"/><path d="M950.80 405.10 q-0.6 3.2 1.2 4 q1 -1.5 -1.2 -4z M955.20 405.10 q0.6 3.2 -1.2 4 q-1 -1.5 1.2 -4z" fill="#0e3c7c"/></g>
<rect x="928" y="415.5" width="67.5" height="48.5" fill="#2367b6" stroke="#0e3c7c" stroke-width="1.3"/>
<rect x="990.5" y="415.5" width="5" height="48.5" fill="#3d84cf" stroke="#0e3c7c" stroke-width="0.8"/>
<rect x="969.5" y="420.35" width="17" height="16.49" fill="#2367b6" stroke="#0e3c7c" stroke-width="0.8"/>
<rect x="969.5" y="442.66" width="17" height="16.49" fill="#2367b6" stroke="#0e3c7c" stroke-width="0.8"/>
<rect x="969" y="422.095" width="13" height="13" fill="#4d93d8" stroke="#0e3c7c" stroke-width="0.8" transform="rotate(8 975.5 428.595)"/>
<rect x="969" y="446.83" width="13" height="13" fill="#4d93d8" stroke="#0e3c7c" stroke-width="0.8" transform="rotate(-12 975.5 453.33)"/>
<path d="M969.5 464 L928 464 L928 415.5 L958.5 415.5 L962.5 407.5 L970.5 418.5 Q964.5 439.75 969.5 464Z" fill="#2367b6" stroke="#0e3c7c" stroke-width="1.1"/>
<path d="M941.25 441.75 l1.5 -4 l1.5 2.5 l2 -1.5 l-0.5 4z" fill="#fff"/>
<path d="M857.5 396 Q860.77 399.36 864.72 398.23 Q862.09 395.07 857.5 396Z" fill="#fff" stroke="#444" stroke-width="0.8" stroke-linejoin="round"/><path d="M857.5 396 Q857.77 399.68 860.72 401.00 Q860.74 397.76 857.5 396Z" fill="#fff" stroke="#444" stroke-width="0.8" stroke-linejoin="round"/><path d="M857.5 396 Q854.76 399.80 856.55 403.50 Q859.21 400.36 857.5 396Z" fill="#fff" stroke="#444" stroke-width="0.8" stroke-linejoin="round"/><path d="M857.5 396 Q853.92 396.90 853.14 400.04 Q856.33 399.50 857.5 396Z" fill="#fff" stroke="#444" stroke-width="0.8" stroke-linejoin="round"/><path d="M857.5 396 Q853.28 393.96 849.95 396.37 Q853.50 398.45 857.5 396Z" fill="#fff" stroke="#444" stroke-width="0.8" stroke-linejoin="round"/><path d="M857.5 396 Q855.99 392.63 852.76 392.40 Q853.85 395.45 857.5 396Z" fill="#fff" stroke="#444" stroke-width="0.8" stroke-linejoin="round"/><path d="M857.5 396 Q858.78 391.49 855.82 388.63 Q854.40 392.49 857.5 396Z" fill="#fff" stroke="#444" stroke-width="0.8" stroke-linejoin="round"/><path d="M857.5 396 Q860.55 393.93 860.22 390.71 Q857.41 392.31 857.5 396Z" fill="#fff" stroke="#444" stroke-width="0.8" stroke-linejoin="round"/><path d="M857.5 396 Q862.16 396.48 864.47 393.07 Q860.42 392.33 857.5 396Z" fill="#fff" stroke="#444" stroke-width="0.8" stroke-linejoin="round"/><circle cx="857.5" cy="396" r="1.3" fill="#555"/>
<rect x="848.5" y="407.5" width="13.5" height="42" fill="#2367b6" stroke="#0e3c7c" stroke-width="1"/>
<path d="M855.25 411.5 Q859.25 428.5 855.25 445.5 Q853.25 428.5 855.25 411.5Z" fill="#4d93d8" stroke="#0e3c7c" stroke-width="0.5"/>
<circle cx="854.27" cy="455.86" r="3.64" fill="#fff" stroke="#5c5c5c" stroke-width="0.8"/><circle cx="859.46" cy="455.32" r="3.64" fill="#e3e8ea" stroke="#5c5c5c" stroke-width="0.8"/><circle cx="859.73" cy="459.41" r="3.64" fill="#fff" stroke="#5c5c5c" stroke-width="0.8"/><circle cx="855.09" cy="459.96" r="3.64" fill="#dfe5e8" stroke="#5c5c5c" stroke-width="0.8"/><circle cx="857" cy="457.5" r="1.95" fill="#eef1f2" stroke="#6a6a6a" stroke-width="0.6"/>
<rect x="16" y="240.5" width="46" height="17.5" fill="#2367b6" stroke="#0e3c7c" stroke-width="1.2"/>
<rect x="17.5" y="242" width="16.125" height="14.5" fill="#3d84cf" stroke="#0e3c7c" stroke-width="0.8"/>
<circle cx="22.015" cy="245.4" r="2.4" fill="#2367b6" stroke="#0e3c7c" stroke-width="0.8"/>
<circle cx="22.015" cy="253.1" r="2.4" fill="#2367b6" stroke="#0e3c7c" stroke-width="0.8"/>
<circle cx="29.11" cy="245.4" r="2.4" fill="#2367b6" stroke="#0e3c7c" stroke-width="0.8"/>
<circle cx="29.11" cy="253.1" r="2.4" fill="#2367b6" stroke="#0e3c7c" stroke-width="0.8"/>
<rect x="35.625" y="242" width="24.875" height="14.5" fill="#3d84cf" stroke="#0e3c7c" stroke-width="0.8"/>
<rect x="44.3312" y="244" width="14.1688" height="10.5" fill="#4d93d8" stroke="#0e3c7c" stroke-width="0.6"/>
<line x1="51.0475" y1="248.375" x2="51.0475" y2="257" stroke="#0e3c7c" stroke-width="1"/>
<circle cx="51.0475" cy="248.375" r="1" fill="#0e3c7c"/>
<polygon points="69.5,240.5 96,240.5 96,250.38 79.57,266.5 69.5,266.5" fill="#4d93d8" stroke="#0e3c7c" stroke-width="1.3"/>
<path d="M95 241.5 L70.5 265.5" stroke="#0e3c7c" stroke-width="0.6" fill="none"/>
<path d="M69.5 240.5 L82.75 253.5" stroke="#0e3c7c" stroke-width="0.6" fill="none"/>
<circle cx="82.75" cy="253.5" r="0.9" fill="#cfe6ff"/>
<rect x="102.5" y="240.5" width="12.5" height="6.16" fill="#2367b6" stroke="#0e3c7c" stroke-width="1"/>
<ellipse cx="108.75" cy="253.58" rx="5.25" ry="8.92" fill="#2367b6" stroke="#0e3c7c" stroke-width="1.1"/>
<rect x="69" y="289" width="13" height="18" fill="#4d93d8" stroke="#0e3c7c" stroke-width="1.2"/>
<rect x="71" y="291" width="9" height="14" fill="#3d84cf" stroke="#0e3c7c" stroke-width="0.6"/>
<path d="M71 291 L77 298 L71 305" fill="#4d93d8" stroke="#0e3c7c" stroke-width="0.7"/>
<rect x="16" y="290" width="18.5" height="18" fill="#2367b6" stroke="#0e3c7c" stroke-width="1.2"/>
<text x="25.25" y="307.6" font-size="19" text-anchor="middle" fill="#0e3c7c" font-weight="bold">*</text>
<g transform="rotate(0 65.5 334.5)"><rect x="61" y="318.5" width="9" height="6" rx="1.5" fill="#2367b6" stroke="#0e3c7c" stroke-width="0.9"/><rect x="61" y="344.5" width="9" height="6" rx="1.5" fill="#2367b6" stroke="#0e3c7c" stroke-width="0.9"/><rect x="49.5" y="330" width="6" height="9" rx="1.5" fill="#2367b6" stroke="#0e3c7c" stroke-width="0.9"/><rect x="53" y="322" width="25" height="25" rx="2.5" fill="#2367b6" stroke="#0e3c7c" stroke-width="1"/></g>
<rect x="145.5" y="266.5" width="26.5" height="13.5" rx="6" fill="#2367b6" stroke="#0e3c7c" stroke-width="1.2"/>
<text x="158.75" y="274.85" font-size="4.6" text-anchor="middle" fill="#0e3c7c" font-weight="bold" letter-spacing="0.2">welcome</text>
<rect x="160" y="292" width="14" height="45" fill="#2367b6" stroke="#0e3c7c" stroke-width="1"/>
<line x1="167" y1="295" x2="167" y2="334" stroke="#0e3c7c" stroke-width="0.9"/>
<path d="M162.5 294.5 Q167 300.5 171.5 294.5" fill="none" stroke="#0e3c7c" stroke-width="0.8"/>
<path d="M162.5 303.5 Q167 309.5 171.5 303.5" fill="none" stroke="#0e3c7c" stroke-width="0.8"/>
<path d="M162.5 312.5 Q167 318.5 171.5 312.5" fill="none" stroke="#0e3c7c" stroke-width="0.8"/>
<path d="M162.5 321.5 Q167 327.5 171.5 321.5" fill="none" stroke="#0e3c7c" stroke-width="0.8"/>
<path d="M162.5 330.5 Q167 336.5 171.5 330.5" fill="none" stroke="#0e3c7c" stroke-width="0.8"/>
<rect x="84.5" y="345.5" width="45.5" height="15" fill="#2367b6" stroke="#0e3c7c" stroke-width="1"/>
<line x1="87.5" y1="353" x2="127" y2="353" stroke="#0e3c7c" stroke-width="0.9"/>
<path d="M86.2917 348 Q92.2917 353 86.2917 358" fill="none" stroke="#0e3c7c" stroke-width="0.8"/>
<path d="M93.875 348 Q99.875 353 93.875 358" fill="none" stroke="#0e3c7c" stroke-width="0.8"/>
<path d="M101.458 348 Q107.458 353 101.458 358" fill="none" stroke="#0e3c7c" stroke-width="0.8"/>
<path d="M109.042 348 Q115.042 353 109.042 358" fill="none" stroke="#0e3c7c" stroke-width="0.8"/>
<path d="M116.625 348 Q122.625 353 116.625 358" fill="none" stroke="#0e3c7c" stroke-width="0.8"/>
<path d="M124.208 348 Q130.208 353 124.208 358" fill="none" stroke="#0e3c7c" stroke-width="0.8"/>
<rect x="28" y="355.5" width="12" height="44" fill="#2367b6" stroke="#0e3c7c" stroke-width="1"/>
<rect x="30.5" y="359.5" width="7" height="36" fill="none" stroke="#0e3c7c" stroke-width="0.6"/>
<path d="M32.8 369.5 L35.2 369.5 L34 383.5Z" fill="#0e3c7c"/>
<line x1="31" y1="363.5" x2="37" y2="363.5" stroke="#4d93d8" stroke-width="0.8"/>
<line x1="31" y1="389.5" x2="37" y2="389.5" stroke="#4d93d8" stroke-width="0.8"/>
<g transform="rotate(90 64.6 402)"><path d="M64.60 384.00 C67.35 384.00 67.90 387.60 69.55 387.60 C71.20 384.54 75.60 386.70 74.50 391.56 C72.52 393.90 73.18 398.40 73.62 402.00 C73.18 406.50 72.52 409.56 74.06 412.44 C75.82 416.40 73.40 419.46 70.65 417.30 C69.00 418.20 66.80 420.00 64.60 419.10 C62.40 420.00 60.20 418.20 58.55 417.30 C55.80 419.46 53.38 416.40 55.14 412.44 C56.68 409.56 56.02 406.50 55.58 402.00 C56.02 398.40 56.68 393.90 54.70 391.56 C53.60 386.70 58.00 384.54 59.65 387.60 C61.30 387.60 61.85 384.00 64.60 384.00Z" fill="#b9d0ec" stroke="#9ab6da" stroke-width="0.7"/><path d="M62.40 405.60 q-0.6 3.2 1.2 4 q1 -1.5 -1.2 -4z M66.80 405.60 q0.6 3.2 -1.2 4 q-1 -1.5 1.2 -4z" fill="#0e3c7c"/></g>
<rect x="26" y="415.5" width="67" height="48.5" fill="#2367b6" stroke="#0e3c7c" stroke-width="1.3"/>
<rect x="26" y="415.5" width="5" height="48.5" fill="#3d84cf" stroke="#0e3c7c" stroke-width="0.8"/>
<rect x="35" y="420.35" width="17" height="16.49" fill="#2367b6" stroke="#0e3c7c" stroke-width="0.8"/>
<rect x="35" y="442.66" width="17" height="16.49" fill="#2367b6" stroke="#0e3c7c" stroke-width="0.8"/>
<rect x="39.5" y="422.095" width="13" height="13" fill="#4d93d8" stroke="#0e3c7c" stroke-width="0.8" transform="rotate(8 46 428.595)"/>
<rect x="39.5" y="446.83" width="13" height="13" fill="#4d93d8" stroke="#0e3c7c" stroke-width="0.8" transform="rotate(-12 46 453.33)"/>
<path d="M52 464 L93 464 L93 415.5 L63 415.5 L59 407.5 L51 418.5 Q57 439.75 52 464Z" fill="#2367b6" stroke="#0e3c7c" stroke-width="1.1"/>
<path d="M76 441.75 l1.5 -4 l1.5 2.5 l2 -1.5 l-0.5 4z" fill="#fff"/>
<path d="M163 394.5 Q166.27 397.86 170.22 396.73 Q167.59 393.57 163 394.5Z" fill="#fff" stroke="#444" stroke-width="0.8" stroke-linejoin="round"/><path d="M163 394.5 Q163.27 398.18 166.22 399.50 Q166.24 396.26 163 394.5Z" fill="#fff" stroke="#444" stroke-width="0.8" stroke-linejoin="round"/><path d="M163 394.5 Q160.26 398.30 162.05 402.00 Q164.71 398.86 163 394.5Z" fill="#fff" stroke="#444" stroke-width="0.8" stroke-linejoin="round"/><path d="M163 394.5 Q159.42 395.40 158.64 398.54 Q161.83 398.00 163 394.5Z" fill="#fff" stroke="#444" stroke-width="0.8" stroke-linejoin="round"/><path d="M163 394.5 Q158.78 392.46 155.45 394.87 Q159.00 396.95 163 394.5Z" fill="#fff" stroke="#444" stroke-width="0.8" stroke-linejoin="round"/><path d="M163 394.5 Q161.49 391.13 158.26 390.90 Q159.35 393.95 163 394.5Z" fill="#fff" stroke="#444" stroke-width="0.8" stroke-linejoin="round"/><path d="M163 394.5 Q164.28 389.99 161.32 387.13 Q159.90 390.99 163 394.5Z" fill="#fff" stroke="#444" stroke-width="0.8" stroke-linejoin="round"/><path d="M163 394.5 Q166.05 392.43 165.72 389.21 Q162.91 390.81 163 394.5Z" fill="#fff" stroke="#444" stroke-width="0.8" stroke-linejoin="round"/><path d="M163 394.5 Q167.66 394.98 169.97 391.57 Q165.92 390.83 163 394.5Z" fill="#fff" stroke="#444" stroke-width="0.8" stroke-linejoin="round"/><circle cx="163" cy="394.5" r="1.3" fill="#555"/>
<rect x="160" y="407" width="13" height="43" fill="#2367b6" stroke="#0e3c7c" stroke-width="1"/>
<path d="M166.5 411 Q170.5 428.5 166.5 446 Q164.5 428.5 166.5 411Z" fill="#4d93d8" stroke="#0e3c7c" stroke-width="0.5"/>
<circle cx="162.98" cy="455.49" r="3.36" fill="#fff" stroke="#5c5c5c" stroke-width="0.8"/><circle cx="167.77" cy="454.98" r="3.36" fill="#e3e8ea" stroke="#5c5c5c" stroke-width="0.8"/><circle cx="168.02" cy="458.76" r="3.36" fill="#fff" stroke="#5c5c5c" stroke-width="0.8"/><circle cx="163.74" cy="459.27" r="3.36" fill="#dfe5e8" stroke="#5c5c5c" stroke-width="0.8"/><circle cx="165.5" cy="457" r="1.80" fill="#eef1f2" stroke="#6a6a6a" stroke-width="0.6"/>
<rect x="617.5" y="269.5" width="14.5" height="60.5" fill="#2367b6" stroke="#0e3c7c" stroke-width="1"/>
<line x1="624.75" y1="272.5" x2="624.75" y2="327" stroke="#0e3c7c" stroke-width="0.9"/>
<path d="M620 271.821 Q624.75 277.821 629.5 271.821" fill="none" stroke="#0e3c7c" stroke-width="0.8"/>
<path d="M620 280.464 Q624.75 286.464 629.5 280.464" fill="none" stroke="#0e3c7c" stroke-width="0.8"/>
<path d="M620 289.107 Q624.75 295.107 629.5 289.107" fill="none" stroke="#0e3c7c" stroke-width="0.8"/>
<path d="M620 297.75 Q624.75 303.75 629.5 297.75" fill="none" stroke="#0e3c7c" stroke-width="0.8"/>
<path d="M620 306.393 Q624.75 312.393 629.5 306.393" fill="none" stroke="#0e3c7c" stroke-width="0.8"/>
<path d="M620 315.036 Q624.75 321.036 629.5 315.036" fill="none" stroke="#0e3c7c" stroke-width="0.8"/>
<path d="M620 323.679 Q624.75 329.679 629.5 323.679" fill="none" stroke="#0e3c7c" stroke-width="0.8"/>
<rect x="634.5" y="264" width="26.5" height="12" rx="6" fill="#2367b6" stroke="#0e3c7c" stroke-width="1.2"/>
<text x="647.75" y="271.6" font-size="4.6" text-anchor="middle" fill="#0e3c7c" font-weight="bold" letter-spacing="0.2">welcome</text>
<rect x="674.5" y="274" width="18" height="13" fill="#4d93d8" stroke="#0e3c7c" stroke-width="1.2"/>
<rect x="676.5" y="276" width="14" height="9" fill="#3d84cf" stroke="#0e3c7c" stroke-width="0.6"/>
<path d="M676.5 276 L683.5 282 L690.5 276" fill="#4d93d8" stroke="#0e3c7c" stroke-width="0.7"/>
<rect x="702" y="274" width="12.5" height="6.44" fill="#2367b6" stroke="#0e3c7c" stroke-width="1"/>
<ellipse cx="708.25" cy="287.72" rx="5.25" ry="9.28" fill="#2367b6" stroke="#0e3c7c" stroke-width="1.1"/>
<polygon points="712.05,309.5 722.5,309.5 722.5,336.5 695,336.5 695,326.24" fill="#4d93d8" stroke="#0e3c7c" stroke-width="1.3"/>
<path d="M721.5 310.5 L696 335.5" stroke="#0e3c7c" stroke-width="0.6" fill="none"/>
<path d="M722.5 336.5 L708.75 323" stroke="#0e3c7c" stroke-width="0.6" fill="none"/>
<circle cx="708.75" cy="323" r="0.9" fill="#cfe6ff"/>
<rect x="662" y="343" width="17" height="17" fill="#2367b6" stroke="#0e3c7c" stroke-width="1.2"/>
<text x="670.5" y="360.1" font-size="19" text-anchor="middle" fill="#0e3c7c" font-weight="bold">*</text>
<rect x="681" y="343" width="41" height="17" fill="#2367b6" stroke="#0e3c7c" stroke-width="1.2"/>
<rect x="682.5" y="344.5" width="15.65" height="14" fill="#3d84cf" stroke="#0e3c7c" stroke-width="0.8"/>
<circle cx="686.882" cy="347.76" r="2.4" fill="#2367b6" stroke="#0e3c7c" stroke-width="0.8"/>
<circle cx="686.882" cy="355.24" r="2.4" fill="#2367b6" stroke="#0e3c7c" stroke-width="0.8"/>
<circle cx="693.768" cy="347.76" r="2.4" fill="#2367b6" stroke="#0e3c7c" stroke-width="0.8"/>
<circle cx="693.768" cy="355.24" r="2.4" fill="#2367b6" stroke="#0e3c7c" stroke-width="0.8"/>
<rect x="700.15" y="344.5" width="20.35" height="14" fill="#3d84cf" stroke="#0e3c7c" stroke-width="0.8"/>
<rect x="707.273" y="346.5" width="11.2275" height="10" fill="#4d93d8" stroke="#0e3c7c" stroke-width="0.6"/>
<line x1="712.767" y1="350.65" x2="712.767" y2="359" stroke="#0e3c7c" stroke-width="1"/>
<circle cx="712.767" cy="350.65" r="1" fill="#0e3c7c"/>
<rect x="617.5" y="378" width="12.5" height="42" fill="#2367b6" stroke="#0e3c7c" stroke-width="1"/>
<path d="M623.75 382 Q627.75 399 623.75 416 Q621.75 399 623.75 382Z" fill="#4d93d8" stroke="#0e3c7c" stroke-width="0.5"/>
<rect x="618" y="428" width="12" height="43" fill="#2367b6" stroke="#0e3c7c" stroke-width="1"/>
<rect x="620.5" y="432" width="7" height="35" fill="none" stroke="#0e3c7c" stroke-width="0.6"/>
<path d="M622.8 441.5 L625.2 441.5 L624 455.5Z" fill="#0e3c7c"/>
<line x1="621" y1="435.5" x2="627" y2="435.5" stroke="#4d93d8" stroke-width="0.8"/>
<line x1="621" y1="461.5" x2="627" y2="461.5" stroke="#4d93d8" stroke-width="0.8"/>
<rect x="702" y="380.5" width="18.5" height="42" rx="2.5" fill="#2367b6" stroke="#0e3c7c" stroke-width="1.2"/>
<line x1="713.47" y1="381.5" x2="713.47" y2="421.5" stroke="#0e3c7c" stroke-width="0.9"/>
<line x1="702" y1="383.5" x2="720.5" y2="383.5" stroke="#0e3c7c" stroke-width="0.7"/>
<line x1="702" y1="419.5" x2="720.5" y2="419.5" stroke="#0e3c7c" stroke-width="0.7"/>
<rect x="659.5" y="474.5" width="46.5" height="20" fill="#a6cbf0" stroke="#0e3c7c" stroke-width="1"/>
<rect x="659.5" y="491" width="46.5" height="3.5" fill="#2367b6" stroke="#0e3c7c" stroke-width="0.8"/>
<ellipse cx="672.875" cy="485" rx="10.375" ry="5" fill="#4d93d8" stroke="#0e3c7c" stroke-width="0.9"/>
<ellipse cx="693.625" cy="485" rx="10.375" ry="5" fill="#4d93d8" stroke="#0e3c7c" stroke-width="0.9"/>
<path d="M657.5 435 Q660.5 438 667.5 437.5 L699 437.5 Q706 438 709 435 Q710 442 708 446 L707.5 467.5 Q710 472.5 711 476.5 Q683.25 480.5 655.5 476.5 Q656.5 472.5 659 467.5 L658.5 446 Q656.5 442 657.5 435Z" fill="#2367b6" stroke="#0e3c7c" stroke-width="1.2"/>
<path d="M663.5 448 Q683.25 458 703 446 M662.5 461.225 Q683.25 470.3 703 459.41 M672.15 440 Q683.25 446 697.125 440" fill="none" stroke="#0e3c7c" stroke-width="0.7"/>
<g transform="rotate(-65 636 485.5)"><rect x="628.5" y="478" width="15" height="15" rx="1.5" fill="#2367b6" stroke="#0e3c7c" stroke-width="1.1"/><rect x="632" y="481" width="11.5" height="9" rx="1.5" fill="#2a70c2" stroke="#0e3c7c" stroke-width="0.7"/><rect x="630.5" y="486" width="6" height="6" fill="#4d93d8" transform="rotate(-30 633.5 489)"/><ellipse cx="638.5" cy="485.5" rx="3" ry="4" fill="#e6eef8" stroke="#0e3c7c" stroke-width="0.6"/><ellipse cx="639.4" cy="485.8" rx="1.3" ry="2" fill="#0e3c7c"/></g>
<circle cx="710.77" cy="485.36" r="3.64" fill="#fff" stroke="#5c5c5c" stroke-width="0.8"/><circle cx="715.96" cy="484.82" r="3.64" fill="#e3e8ea" stroke="#5c5c5c" stroke-width="0.8"/><circle cx="716.23" cy="488.91" r="3.64" fill="#fff" stroke="#5c5c5c" stroke-width="0.8"/><circle cx="711.59" cy="489.46" r="3.64" fill="#dfe5e8" stroke="#5c5c5c" stroke-width="0.8"/><circle cx="713.5" cy="487" r="1.95" fill="#eef1f2" stroke="#6a6a6a" stroke-width="0.6"/>
<rect x="823" y="269.5" width="14.5" height="60.5" fill="#2367b6" stroke="#0e3c7c" stroke-width="1"/>
<line x1="830.25" y1="272.5" x2="830.25" y2="327" stroke="#0e3c7c" stroke-width="0.9"/>
<path d="M825.5 271.821 Q830.25 277.821 835 271.821" fill="none" stroke="#0e3c7c" stroke-width="0.8"/>
<path d="M825.5 280.464 Q830.25 286.464 835 280.464" fill="none" stroke="#0e3c7c" stroke-width="0.8"/>
<path d="M825.5 289.107 Q830.25 295.107 835 289.107" fill="none" stroke="#0e3c7c" stroke-width="0.8"/>
<path d="M825.5 297.75 Q830.25 303.75 835 297.75" fill="none" stroke="#0e3c7c" stroke-width="0.8"/>
<path d="M825.5 306.393 Q830.25 312.393 835 306.393" fill="none" stroke="#0e3c7c" stroke-width="0.8"/>
<path d="M825.5 315.036 Q830.25 321.036 835 315.036" fill="none" stroke="#0e3c7c" stroke-width="0.8"/>
<path d="M825.5 323.679 Q830.25 329.679 835 323.679" fill="none" stroke="#0e3c7c" stroke-width="0.8"/>
<rect x="794" y="264" width="26.5" height="12" rx="6" fill="#2367b6" stroke="#0e3c7c" stroke-width="1.2"/>
<text x="807.25" y="271.6" font-size="4.6" text-anchor="middle" fill="#0e3c7c" font-weight="bold" letter-spacing="0.2">welcome</text>
<rect x="761" y="274" width="18.5" height="13" fill="#4d93d8" stroke="#0e3c7c" stroke-width="1.2"/>
<rect x="763" y="276" width="14.5" height="9" fill="#3d84cf" stroke="#0e3c7c" stroke-width="0.6"/>
<path d="M763 276 L770.25 282 L777.5 276" fill="#4d93d8" stroke="#0e3c7c" stroke-width="0.7"/>
<rect x="739" y="274" width="12.5" height="6.44" fill="#2367b6" stroke="#0e3c7c" stroke-width="1"/>
<ellipse cx="745.25" cy="287.72" rx="5.25" ry="9.28" fill="#2367b6" stroke="#0e3c7c" stroke-width="1.1"/>
<polygon points="731,309.5 741.45,309.5 758.5,326.24 758.5,336.5 731,336.5" fill="#4d93d8" stroke="#0e3c7c" stroke-width="1.3"/>
<path d="M732 310.5 L757.5 335.5" stroke="#0e3c7c" stroke-width="0.6" fill="none"/>
<path d="M731 336.5 L744.75 323" stroke="#0e3c7c" stroke-width="0.6" fill="none"/>
<circle cx="744.75" cy="323" r="0.9" fill="#cfe6ff"/>
<rect x="774.5" y="343" width="16.5" height="17" fill="#2367b6" stroke="#0e3c7c" stroke-width="1.2"/>
<text x="782.75" y="360.1" font-size="19" text-anchor="middle" fill="#0e3c7c" font-weight="bold">*</text>
<rect x="731" y="343" width="41.5" height="17" fill="#2367b6" stroke="#0e3c7c" stroke-width="1.2"/>
<rect x="755.35" y="344.5" width="15.65" height="14" fill="#3d84cf" stroke="#0e3c7c" stroke-width="0.8"/>
<circle cx="759.732" cy="347.76" r="2.4" fill="#2367b6" stroke="#0e3c7c" stroke-width="0.8"/>
<circle cx="759.732" cy="355.24" r="2.4" fill="#2367b6" stroke="#0e3c7c" stroke-width="0.8"/>
<circle cx="766.618" cy="347.76" r="2.4" fill="#2367b6" stroke="#0e3c7c" stroke-width="0.8"/>
<circle cx="766.618" cy="355.24" r="2.4" fill="#2367b6" stroke="#0e3c7c" stroke-width="0.8"/>
<rect x="732.5" y="344.5" width="20.85" height="14" fill="#3d84cf" stroke="#0e3c7c" stroke-width="0.8"/>
<rect x="739.798" y="346.5" width="11.5525" height="10" fill="#4d93d8" stroke="#0e3c7c" stroke-width="0.6"/>
<line x1="745.427" y1="350.65" x2="745.427" y2="359" stroke="#0e3c7c" stroke-width="1"/>
<circle cx="745.427" cy="350.65" r="1" fill="#0e3c7c"/>
<rect x="826" y="378" width="12" height="42" fill="#2367b6" stroke="#0e3c7c" stroke-width="1"/>
<path d="M832 382 Q836 399 832 416 Q830 399 832 382Z" fill="#4d93d8" stroke="#0e3c7c" stroke-width="0.5"/>
<rect x="826" y="428" width="12" height="43" fill="#2367b6" stroke="#0e3c7c" stroke-width="1"/>
<rect x="828.5" y="432" width="7" height="35" fill="none" stroke="#0e3c7c" stroke-width="0.6"/>
<path d="M830.8 441.5 L833.2 441.5 L832 455.5Z" fill="#0e3c7c"/>
<line x1="829" y1="435.5" x2="835" y2="435.5" stroke="#4d93d8" stroke-width="0.8"/>
<line x1="829" y1="461.5" x2="835" y2="461.5" stroke="#4d93d8" stroke-width="0.8"/>
<rect x="733" y="380.5" width="18.5" height="42" rx="2.5" fill="#2367b6" stroke="#0e3c7c" stroke-width="1.2"/>
<line x1="740.03" y1="381.5" x2="740.03" y2="421.5" stroke="#0e3c7c" stroke-width="0.9"/>
<line x1="733" y1="383.5" x2="751.5" y2="383.5" stroke="#0e3c7c" stroke-width="0.7"/>
<line x1="733" y1="419.5" x2="751.5" y2="419.5" stroke="#0e3c7c" stroke-width="0.7"/>
<rect x="750" y="474.5" width="47" height="20" fill="#a6cbf0" stroke="#0e3c7c" stroke-width="1"/>
<rect x="750" y="491" width="47" height="3.5" fill="#2367b6" stroke="#0e3c7c" stroke-width="0.8"/>
<ellipse cx="763.5" cy="485" rx="10.5" ry="5" fill="#4d93d8" stroke="#0e3c7c" stroke-width="0.9"/>
<ellipse cx="784.5" cy="485" rx="10.5" ry="5" fill="#4d93d8" stroke="#0e3c7c" stroke-width="0.9"/>
<path d="M748 435 Q751 438 758 437.5 L790 437.5 Q797 438 800 435 Q801 442 799 446 L798.5 467.5 Q801 472.5 802 476.5 Q774 480.5 746 476.5 Q747 472.5 749.5 467.5 L749 446 Q747 442 748 435Z" fill="#2367b6" stroke="#0e3c7c" stroke-width="1.2"/>
<path d="M754 448 Q774 458 794 446 M753 461.225 Q774 470.3 794 459.41 M762.8 440 Q774 446 788 440" fill="none" stroke="#0e3c7c" stroke-width="0.7"/>
<g transform="rotate(-115 818.5 485.5)"><rect x="811" y="478" width="15" height="15" rx="1.5" fill="#2367b6" stroke="#0e3c7c" stroke-width="1.1"/><rect x="814.5" y="481" width="11.5" height="9" rx="1.5" fill="#2a70c2" stroke="#0e3c7c" stroke-width="0.7"/><rect x="813" y="486" width="6" height="6" fill="#4d93d8" transform="rotate(-30 816 489)"/><ellipse cx="821" cy="485.5" rx="3" ry="4" fill="#e6eef8" stroke="#0e3c7c" stroke-width="0.6"/><ellipse cx="821.9" cy="485.8" rx="1.3" ry="2" fill="#0e3c7c"/></g>
<path d="M742 487 Q745.50 490.60 749.74 489.39 Q746.92 486.00 742 487Z" fill="#fff" stroke="#444" stroke-width="0.8" stroke-linejoin="round"/><path d="M742 487 Q742.29 490.94 745.45 492.36 Q745.47 488.89 742 487Z" fill="#fff" stroke="#444" stroke-width="0.8" stroke-linejoin="round"/><path d="M742 487 Q739.06 491.07 740.99 495.04 Q743.84 491.67 742 487Z" fill="#fff" stroke="#444" stroke-width="0.8" stroke-linejoin="round"/><path d="M742 487 Q738.17 487.97 737.32 491.33 Q740.74 490.75 742 487Z" fill="#fff" stroke="#444" stroke-width="0.8" stroke-linejoin="round"/><path d="M742 487 Q737.48 484.81 733.91 487.40 Q737.72 489.62 742 487Z" fill="#fff" stroke="#444" stroke-width="0.8" stroke-linejoin="round"/><path d="M742 487 Q740.38 483.39 736.92 483.15 Q738.09 486.41 742 487Z" fill="#fff" stroke="#444" stroke-width="0.8" stroke-linejoin="round"/><path d="M742 487 Q743.37 482.17 740.20 479.10 Q738.68 483.24 742 487Z" fill="#fff" stroke="#444" stroke-width="0.8" stroke-linejoin="round"/><path d="M742 487 Q745.27 484.78 744.91 481.33 Q741.90 483.05 742 487Z" fill="#fff" stroke="#444" stroke-width="0.8" stroke-linejoin="round"/><path d="M742 487 Q747.00 487.51 749.47 483.86 Q745.13 483.07 742 487Z" fill="#fff" stroke="#444" stroke-width="0.8" stroke-linejoin="round"/><circle cx="742" cy="487" r="1.3" fill="#555"/>
<rect x="92" y="55.5" width="48.5" height="45" fill="#fff" stroke="#8d8d8d" stroke-width="0.7"/>
<text x="89.3" y="92.2" font-size="40.3" class="ng" fill="#4b4b4b" stroke="#4b4b4b" stroke-width="1.1">1</text>
<text x="111.49 116.80 120.76 122.59" y="69.2" font-size="11.8" class="ng" fill="#505050">21,1</text>
<text x="111.43 118.10 124.48 127.19" y="81.65" font-size="11.8" class="ng" fill="#505050">34,3</text>
<text x="111.43 118.10 124.48 127.19" y="94.1" font-size="11.8" class="ng" fill="#505050">34,3</text>
<rect x="222.5" y="37" width="48" height="44.5" fill="#fff" stroke="#8d8d8d" stroke-width="0.7"/>
<text x="219.8" y="73.7" font-size="40.3" class="ng" fill="#4b4b4b" stroke="#4b4b4b" stroke-width="1.1">1</text>
<text x="241.99 247.30 251.26 253.09" y="50.7" font-size="11.8" class="ng" fill="#505050">21,1</text>
<text x="241.93 248.30 254.39 256.69" y="63.15" font-size="11.8" class="ng" fill="#505050">30,5</text>
<text x="241.93 248.30 254.39 256.69" y="75.6" font-size="11.8" class="ng" fill="#505050">30,5</text>
<rect x="426" y="70" width="48" height="44.5" fill="#fff" stroke="#8d8d8d" stroke-width="0.7"/>
<text x="423.3" y="106.7" font-size="40.3" class="ng" fill="#4b4b4b" stroke="#4b4b4b" stroke-width="1.1">1</text>
<text x="444.55 449.15 455.29 458.06" y="83.7" font-size="11.8" class="ng" fill="#505050">18,0</text>
<text x="445.49 451.62 457.42 460.48" y="96.15" font-size="11.8" class="ng" fill="#505050">27,4</text>
<text x="445.49 451.62 457.42 460.48" y="108.6" font-size="11.8" class="ng" fill="#505050">27,4</text>
<rect x="551" y="69.5" width="48.5" height="44.5" fill="#fff" stroke="#8d8d8d" stroke-width="0.7"/>
<text x="548.3" y="106.2" font-size="40.3" class="ng" fill="#4b4b4b" stroke="#4b4b4b" stroke-width="1.1">1</text>
<text x="569.55 574.15 580.29 583.06" y="83.2" font-size="11.8" class="ng" fill="#505050">18,0</text>
<text x="570.49 576.62 582.42 585.48" y="95.65" font-size="11.8" class="ng" fill="#505050">27,4</text>
<text x="570.49 576.62 582.42 585.48" y="108.1" font-size="11.8" class="ng" fill="#505050">27,4</text>
<rect x="750" y="38" width="48" height="44.5" fill="#fff" stroke="#8d8d8d" stroke-width="0.7"/>
<text x="747.3" y="74.7" font-size="40.3" class="ng" fill="#4b4b4b" stroke="#4b4b4b" stroke-width="1.1">1</text>
<text x="769.49 774.80 778.76 780.59" y="51.7" font-size="11.8" class="ng" fill="#505050">21,1</text>
<text x="769.43 775.80 781.89 784.19" y="64.15" font-size="11.8" class="ng" fill="#505050">30,5</text>
<text x="769.43 775.80 781.89 784.19" y="76.6" font-size="11.8" class="ng" fill="#505050">30,5</text>
<rect x="879" y="66" width="48.5" height="45" fill="#fff" stroke="#8d8d8d" stroke-width="0.7"/>
<text x="876.3" y="102.7" font-size="40.3" class="ng" fill="#4b4b4b" stroke="#4b4b4b" stroke-width="1.1">1</text>
<text x="898.49 903.80 907.76 909.59" y="79.7" font-size="11.8" class="ng" fill="#505050">21,1</text>
<text x="898.43 905.10 911.48 914.19" y="92.15" font-size="11.8" class="ng" fill="#505050">34,3</text>
<text x="898.43 905.10 911.48 914.19" y="104.6" font-size="11.8" class="ng" fill="#505050">34,3</text>
<rect x="100" y="371" width="48" height="44.5" fill="#fff" stroke="#8d8d8d" stroke-width="0.7"/>
<text x="97.3" y="407.7" font-size="40.3" class="ng" fill="#4b4b4b" stroke="#4b4b4b" stroke-width="1.1">1</text>
<text x="119.49 124.80 128.76 130.59" y="384.7" font-size="11.8" class="ng" fill="#505050">21,1</text>
<text x="119.43 126.10 132.48 135.19" y="397.15" font-size="11.8" class="ng" fill="#505050">34,3</text>
<text x="119.43 126.10 132.48 135.19" y="409.6" font-size="11.8" class="ng" fill="#505050">34,3</text>
<rect x="639.5" y="378" width="48" height="45" fill="#fff" stroke="#8d8d8d" stroke-width="0.7"/>
<text x="636.8" y="414.7" font-size="40.3" class="ng" fill="#4b4b4b" stroke="#4b4b4b" stroke-width="1.1">1</text>
<text x="658.05 662.53 668.32 671.03" y="391.7" font-size="11.8" class="ng" fill="#505050">17,3</text>
<text x="658.99 665.54 671.92 674.69" y="404.15" font-size="11.8" class="ng" fill="#505050">24,9</text>
<text x="658.99 665.54 671.92 674.69" y="416.6" font-size="11.8" class="ng" fill="#505050">24,9</text>
<rect x="769" y="378" width="48" height="45" fill="#fff" stroke="#8d8d8d" stroke-width="0.7"/>
<text x="766.3" y="414.7" font-size="40.3" class="ng" fill="#4b4b4b" stroke="#4b4b4b" stroke-width="1.1">1</text>
<text x="787.55 792.03 797.82 800.53" y="391.7" font-size="11.8" class="ng" fill="#505050">17,3</text>
<text x="788.49 795.04 801.42 804.19" y="404.15" font-size="11.8" class="ng" fill="#505050">24,9</text>
<text x="788.49 795.04 801.42 804.19" y="416.6" font-size="11.8" class="ng" fill="#505050">24,9</text>
<rect x="871" y="386" width="48" height="45" fill="#fff" stroke="#8d8d8d" stroke-width="0.7"/>
<text x="868.3" y="422.7" font-size="40.3" class="ng" fill="#4b4b4b" stroke="#4b4b4b" stroke-width="1.1">1</text>
<text x="890.49 895.80 899.76 902.47" y="399.7" font-size="11.8" class="ng" fill="#505050">21,3</text>
<text x="890.43 897.10 903.48 906.19" y="412.15" font-size="11.8" class="ng" fill="#505050">34,3</text>
<text x="890.43 897.10 903.48 906.19" y="424.6" font-size="11.8" class="ng" fill="#505050">34,3</text>
<text x="152.71 158.90 163.47 165.79" y="127.8" font-size="13.1" class="ng" fill="#1e1e1e" stroke="#1e1e1e" stroke-width="0.6" transform="translate(153.5 127.8) skewX(-11) translate(-153.5 -127.8)">21,1</text>
<text x="142.65 149.19 152.49" y="170.3" font-size="13.1" class="ng" fill="#1e1e1e" stroke="#1e1e1e" stroke-width="0.6" transform="translate(143.5 170.3) skewX(-11) translate(-143.5 -170.3)">3,3</text>
<text x="89.54 96.80 100.49" y="185.3" font-size="13.1" class="ng" fill="#1e1e1e" stroke="#1e1e1e" stroke-width="0.6" transform="translate(90 185.3) skewX(-11) translate(-90 -185.3)">4,4</text>
<text x="40.69 47.42 50.27" y="203.3" font-size="13.1" class="ng" fill="#1e1e1e" stroke="#1e1e1e" stroke-width="0.6" transform="translate(42 203.3) skewX(-11) translate(-42 -203.3)">5,5</text>
<text x="238.71 244.90 249.47 251.79" y="133.8" font-size="13.1" class="ng" fill="#1e1e1e" stroke="#1e1e1e" stroke-width="0.6" transform="translate(239.5 133.8) skewX(-11) translate(-239.5 -133.8)">21,1</text>
<text x="221.19 227.93 231.16" y="170.8" font-size="13.1" class="ng" fill="#1e1e1e" stroke="#1e1e1e" stroke-width="0.6" transform="translate(222.5 170.8) skewX(-11) translate(-222.5 -170.8)">5,6</text>
<text x="285.15 291.69 295.05" y="170.3" font-size="13.1" class="ng" fill="#1e1e1e" stroke="#1e1e1e" stroke-width="0.6" transform="translate(286 170.3) skewX(-11) translate(-286 -170.3)">3,8</text>
<text x="386.15 392.69 396.05" y="170.3" font-size="13.1" class="ng" fill="#1e1e1e" stroke="#1e1e1e" stroke-width="0.6" transform="translate(387 170.3) skewX(-11) translate(-387 -170.3)">3,8</text>
<text x="478.67 484.06 491.06 494.42" y="133.8" font-size="13.1" class="ng" fill="#1e1e1e" stroke="#1e1e1e" stroke-width="0.6" transform="translate(480.5 133.8) skewX(-11) translate(-480.5 -133.8)">18,0</text>
<text x="518.67 524.06 531.06 534.42" y="133.8" font-size="13.1" class="ng" fill="#1e1e1e" stroke="#1e1e1e" stroke-width="0.6" transform="translate(520.5 133.8) skewX(-11) translate(-520.5 -133.8)">18,0</text>
<text x="456.69 463.43 466.66" y="170.3" font-size="13.1" class="ng" fill="#1e1e1e" stroke="#1e1e1e" stroke-width="0.6" transform="translate(458 170.3) skewX(-11) translate(-458 -170.3)">5,6</text>
<text x="542.69 549.42 552.66" y="170.3" font-size="13.1" class="ng" fill="#1e1e1e" stroke="#1e1e1e" stroke-width="0.6" transform="translate(544 170.3) skewX(-11) translate(-544 -170.3)">5,6</text>
<text x="617.65 624.19 627.55" y="170.3" font-size="13.1" class="ng" fill="#1e1e1e" stroke="#1e1e1e" stroke-width="0.6" transform="translate(618.5 170.3) skewX(-11) translate(-618.5 -170.3)">3,8</text>
<text x="713.15 719.69 723.05" y="170.3" font-size="13.1" class="ng" fill="#1e1e1e" stroke="#1e1e1e" stroke-width="0.6" transform="translate(714 170.3) skewX(-11) translate(-714 -170.3)">3,8</text>
<text x="761.21 767.40 771.97 774.29" y="133.8" font-size="13.1" class="ng" fill="#1e1e1e" stroke="#1e1e1e" stroke-width="0.6" transform="translate(762 133.8) skewX(-11) translate(-762 -133.8)">21,1</text>
<text x="783.69 790.42 793.66" y="170.3" font-size="13.1" class="ng" fill="#1e1e1e" stroke="#1e1e1e" stroke-width="0.6" transform="translate(785 170.3) skewX(-11) translate(-785 -170.3)">5,6</text>
<text x="852.21 858.40 862.97 865.29" y="126.8" font-size="13.1" class="ng" fill="#1e1e1e" stroke="#1e1e1e" stroke-width="0.6" transform="translate(853 126.8) skewX(-11) translate(-853 -126.8)">21,1</text>
<text x="861.15 867.69 870.99" y="170.3" font-size="13.1" class="ng" fill="#1e1e1e" stroke="#1e1e1e" stroke-width="0.6" transform="translate(862 170.3) skewX(-11) translate(-862 -170.3)">3,3</text>
<text x="910.54 917.80 921.49" y="179.3" font-size="13.1" class="ng" fill="#1e1e1e" stroke="#1e1e1e" stroke-width="0.6" transform="translate(911 179.3) skewX(-11) translate(-911 -179.3)">4,4</text>
<text x="967.69 974.42 977.27" y="205.8" font-size="13.1" class="ng" fill="#1e1e1e" stroke="#1e1e1e" stroke-width="0.6" transform="translate(969 205.8) skewX(-11) translate(-969 -205.8)">5,5</text>
<text x="30.69 37.42 40.27" y="279.8" font-size="13.1" class="ng" fill="#1e1e1e" stroke="#1e1e1e" stroke-width="0.6" transform="translate(32 279.8) skewX(-11) translate(-32 -279.8)">5,5</text>
<text x="89.54 96.80 100.49" y="289.8" font-size="13.1" class="ng" fill="#1e1e1e" stroke="#1e1e1e" stroke-width="0.6" transform="translate(90 289.8) skewX(-11) translate(-90 -289.8)">4,4</text>
<text x="132.65 139.19 142.49" y="307.3" font-size="13.1" class="ng" fill="#1e1e1e" stroke="#1e1e1e" stroke-width="0.6" transform="translate(133.5 307.3) skewX(-11) translate(-133.5 -307.3)">3,3</text>
<text x="134.21 140.40 144.97 147.29" y="460.8" font-size="13.1" class="ng" fill="#1e1e1e" stroke="#1e1e1e" stroke-width="0.6" transform="translate(135 460.8) skewX(-11) translate(-135 -460.8)">21,1</text>
<text x="640.54 647.80 651.17" y="290.3" font-size="13.1" class="ng" fill="#1e1e1e" stroke="#1e1e1e" stroke-width="0.6" transform="translate(641 290.3) skewX(-11) translate(-641 -290.3)">4,0</text>
<text x="795.54 802.80 806.17" y="290.3" font-size="13.1" class="ng" fill="#1e1e1e" stroke="#1e1e1e" stroke-width="0.6" transform="translate(796 290.3) skewX(-11) translate(-796 -290.3)">4,0</text>
<text x="677.15 683.69 686.92" y="309.3" font-size="13.1" class="ng" fill="#1e1e1e" stroke="#1e1e1e" stroke-width="0.6" transform="translate(678 309.3) skewX(-11) translate(-678 -309.3)">3,6</text>
<text x="758.15 764.69 767.92" y="309.3" font-size="13.1" class="ng" fill="#1e1e1e" stroke="#1e1e1e" stroke-width="0.6" transform="translate(759 309.3) skewX(-11) translate(-759 -309.3)">3,6</text>
<text x="620.17 625.43 632.03 635.33" y="360.8" font-size="13.1" class="ng" fill="#1e1e1e" stroke="#1e1e1e" stroke-width="0.6" transform="translate(622 360.8) skewX(-11) translate(-622 -360.8)">17,3</text>
<text x="810.17 815.43 822.03 825.33" y="360.8" font-size="13.1" class="ng" fill="#1e1e1e" stroke="#1e1e1e" stroke-width="0.6" transform="translate(812 360.8) skewX(-11) translate(-812 -360.8)">17,3</text>
<text x="853.21 859.40 863.97 866.29" y="371.8" font-size="13.1" class="ng" fill="#1e1e1e" stroke="#1e1e1e" stroke-width="0.6" transform="translate(854 371.8) skewX(-11) translate(-854 -371.8)">21,1</text>
<text x="974.69 981.42 984.27" y="279.3" font-size="13.1" class="ng" fill="#1e1e1e" stroke="#1e1e1e" stroke-width="0.6" transform="translate(976 279.3) skewX(-11) translate(-976 -279.3)">5,5</text>
<text x="867.15 873.69 876.99" y="302.3" font-size="13.1" class="ng" fill="#1e1e1e" stroke="#1e1e1e" stroke-width="0.6" transform="translate(868 302.3) skewX(-11) translate(-868 -302.3)">3,3</text>
<text x="913.04 920.30 923.99" y="328.8" font-size="13.1" class="ng" fill="#1e1e1e" stroke="#1e1e1e" stroke-width="0.6" transform="translate(913.5 328.8) skewX(-11) translate(-913.5 -328.8)">4,4</text>
<path d="M135 138 L135 129.5" fill="none" stroke="#9a9a9a" stroke-width="0.7"/>
<path d="M135 129.5 L158.75 140" fill="none" stroke="#595959" stroke-width="1.3"/>
<path d="M125 145 L110 164.5" fill="none" stroke="#595959" stroke-width="1.3"/>
<path d="M110 164.5 L119.5 168" fill="none" stroke="#9a9a9a" stroke-width="0.7"/>
<path d="M142.5 210 L152.5 203" fill="none" stroke="#595959" stroke-width="1.3"/>
<path d="M213 138 L213.75 127" fill="none" stroke="#9a9a9a" stroke-width="0.7"/>
<path d="M213.75 127 L238.75 140" fill="none" stroke="#595959" stroke-width="1.3"/>
<path d="M212 210 L222.5 203" fill="none" stroke="#595959" stroke-width="1.3"/>
<path d="M270 160 L258.75 178.75" fill="none" stroke="#595959" stroke-width="1.3"/>
<path d="M258.75 178.75 L268 182" fill="none" stroke="#9a9a9a" stroke-width="0.7"/>
<path d="M421.25 160 L432.5 178.75" fill="none" stroke="#595959" stroke-width="1.3"/>
<path d="M432.5 178.75 L423.75 182" fill="none" stroke="#9a9a9a" stroke-width="0.7"/>
<path d="M457 138 L458 127" fill="none" stroke="#9a9a9a" stroke-width="0.7"/>
<path d="M458 127 L481.25 140" fill="none" stroke="#595959" stroke-width="1.3"/>
<path d="M571 138 L570 127" fill="none" stroke="#9a9a9a" stroke-width="0.7"/>
<path d="M570 127 L546.25 140" fill="none" stroke="#595959" stroke-width="1.3"/>
<path d="M597.5 160 L586.25 178.75" fill="none" stroke="#595959" stroke-width="1.3"/>
<path d="M586.25 178.75 L596.25 182" fill="none" stroke="#9a9a9a" stroke-width="0.7"/>
<path d="M750 160 L761.25 178.75" fill="none" stroke="#595959" stroke-width="1.3"/>
<path d="M761.25 178.75 L753 182" fill="none" stroke="#9a9a9a" stroke-width="0.7"/>
<path d="M497.5 202.5 L503.75 208.75" fill="none" stroke="#595959" stroke-width="1.3"/>
<path d="M526 202.5 L520 208.75" fill="none" stroke="#595959" stroke-width="1.3"/>
<path d="M784 138 L785 127" fill="none" stroke="#9a9a9a" stroke-width="0.7"/>
<path d="M785 127 L808 140" fill="none" stroke="#595959" stroke-width="1.3"/>
<path d="M803 204.5 L812 210" fill="none" stroke="#595959" stroke-width="1.3"/>
<path d="M886.5 138 L885.5 127" fill="none" stroke="#9a9a9a" stroke-width="0.7"/>
<path d="M885.5 127 L863 140" fill="none" stroke="#595959" stroke-width="1.3"/>
<path d="M900.5 145 L913 162.5" fill="none" stroke="#595959" stroke-width="1.3"/>
<path d="M913 162.5 L904.25 167" fill="none" stroke="#9a9a9a" stroke-width="0.7"/>
<path d="M863 202.5 L850.5 210.5" fill="none" stroke="#595959" stroke-width="1.3"/>
<path d="M111.25 315 L123.75 336" fill="none" stroke="#595959" stroke-width="1.3"/>
<path d="M135 341 L138.75 352.5" fill="none" stroke="#9a9a9a" stroke-width="0.7"/>
<path d="M138.75 352.5 L160 340" fill="none" stroke="#595959" stroke-width="1.3"/>
<path d="M203.75 350 L227.5 365" fill="none" stroke="#595959" stroke-width="1.3"/>
<path d="M227.5 365 L231 354.5" fill="none" stroke="#9a9a9a" stroke-width="0.7"/>
<path d="M250.75 352 L273 365.5" fill="none" stroke="#595959" stroke-width="1.3"/>
<path d="M273 365.5 L277 354.5" fill="none" stroke="#9a9a9a" stroke-width="0.7"/>
<path d="M227.5 397 L251 383" fill="none" stroke="#595959" stroke-width="1.3"/>
<path d="M251 383 L255 395" fill="none" stroke="#9a9a9a" stroke-width="0.7"/>
<path d="M411 357 L398.75 377.5" fill="none" stroke="#595959" stroke-width="1.3"/>
<path d="M398.75 377.5 L408.75 396" fill="none" stroke="#9a9a9a" stroke-width="0.7"/>
<path d="M398.75 377.5 L409 381" fill="none" stroke="#595959" stroke-width="1.3"/>
<path d="M362.5 260 L388 275" fill="none" stroke="#595959" stroke-width="1.3"/>
<path d="M388 275 L392 265.5" fill="none" stroke="#9a9a9a" stroke-width="0.7"/>
<path d="M315.5 506 L336 520.5 L339.5 505 L342.5 520.5 L363.75 506" fill="none" stroke="#5a5a5a" stroke-width="1.0"/>
<path d="M428.75 464.5 L450 476.25 L453 465.5 L455.5 473.75 L467 467" fill="none" stroke="#5a5a5a" stroke-width="1.0"/>
<path d="M560.5 464.5 L582 476.25 L585 466 L587.5 473.75 L600 467" fill="none" stroke="#5a5a5a" stroke-width="1.0"/>
<path d="M664.5 295 L653.75 313.75" fill="none" stroke="#595959" stroke-width="1.3"/>
<path d="M653.75 313.75 L664.5 316.25" fill="none" stroke="#9a9a9a" stroke-width="0.7"/>
<path d="M791 295 L801 313.75" fill="none" stroke="#595959" stroke-width="1.3"/>
<path d="M801 313.75 L791 316" fill="none" stroke="#9a9a9a" stroke-width="0.7"/>
<path d="M635 338.75 L658.75 353.75" fill="none" stroke="#595959" stroke-width="1.3"/>
<path d="M658.75 353.75 L662 343" fill="none" stroke="#9a9a9a" stroke-width="0.7"/>
<path d="M817.5 338.75 L795 353.75" fill="none" stroke="#595959" stroke-width="1.3"/>
<path d="M795 353.75 L792.5 343" fill="none" stroke="#9a9a9a" stroke-width="0.7"/>
<path d="M911.75 309.5 L899.5 330" fill="none" stroke="#595959" stroke-width="1.3"/>
<path d="M861.75 340 L884 354.5" fill="none" stroke="#595959" stroke-width="1.3"/>
<path d="M884 354.5 L890 343" fill="none" stroke="#9a9a9a" stroke-width="0.7"/>
<path d="M185.5 269 L209 269 A23.5 25 0 0 1 185.5 294 Z" fill="#fff" stroke="#777" stroke-width="0.8"/><circle cx="189.5" cy="273" r="1.2" fill="none" stroke="#777" stroke-width="0.6"/>
<rect x="219.5" y="304.5" width="13" height="18.5" rx="4" fill="#fff" stroke="#777" stroke-width="0.8"/>
<rect x="221.5" y="306.5" width="9" height="14.5" rx="3" fill="none" stroke="#777" stroke-width="0.5"/>
<path d="M224 313.75 h5 M227 311.25 v5" stroke="#444" stroke-width="0.7"/>
<rect x="278" y="311" width="14" height="19" rx="4" fill="#fff" stroke="#777" stroke-width="0.8"/>
<rect x="280" y="313" width="10" height="15" rx="3" fill="none" stroke="#777" stroke-width="0.5"/>
<path d="M283 320.5 h5 M286 318 v5" stroke="#444" stroke-width="0.7"/>
<rect x="516" y="422" width="14" height="19" rx="4" fill="#fff" stroke="#777" stroke-width="0.8"/>
<rect x="518" y="424" width="10" height="15" rx="3" fill="none" stroke="#777" stroke-width="0.5"/>
<path d="M521 431.5 h5 M524 429 v5" stroke="#444" stroke-width="0.7"/>
<ellipse cx="279" cy="294" rx="7.5" ry="6.5" fill="#fff" stroke="#777" stroke-width="0.8"/><ellipse cx="279.5" cy="294" rx="4.5" ry="4" fill="none" stroke="#777" stroke-width="0.5"/><rect x="286.5" y="287.5" width="5.5" height="13.5" rx="1" fill="#fff" stroke="#777" stroke-width="0.8"/>
<rect x="485" y="276" width="38" height="66" fill="#fff" stroke="#777" stroke-width="0.8"/>
<path d="M486 277 L522 341" fill="none" stroke="#777" stroke-width="0.7"/>
<path d="M522 277 L486 341" fill="none" stroke="#777" stroke-width="0.7"/>
<rect x="485" y="359.5" width="38" height="36.5" fill="#fff" stroke="#777" stroke-width="0.8"/>
<path d="M486 360.5 L522 395" fill="none" stroke="#777" stroke-width="0.7"/>
<path d="M522 360.5 L486 395" fill="none" stroke="#777" stroke-width="0.7"/>
<rect x="475" y="300" width="2.5" height="20.35" fill="#fff" stroke="#777" stroke-width="0.5"/>
<rect x="478.5" y="311.1" width="2.5" height="25.16" fill="#fff" stroke="#777" stroke-width="0.5"/>
<rect x="475" y="362.5" width="2.5" height="15.4" fill="#fff" stroke="#777" stroke-width="0.5"/>
<rect x="478.5" y="370.9" width="2.5" height="19.04" fill="#fff" stroke="#777" stroke-width="0.5"/>
<rect x="537" y="334" width="32.5" height="83.5" fill="none" stroke="#666" stroke-width="0.7"/>
<path d="M537 342.35 L569.5 342.35" fill="none" stroke="#666" stroke-width="0.6"/>
<path d="M537 350.7 L569.5 350.7" fill="none" stroke="#666" stroke-width="0.6"/>
<path d="M537 359.05 L569.5 359.05" fill="none" stroke="#666" stroke-width="0.6"/>
<path d="M537 367.4 L569.5 367.4" fill="none" stroke="#666" stroke-width="0.6"/>
<path d="M537 375.75 L569.5 375.75" fill="none" stroke="#666" stroke-width="0.6"/>
<path d="M537 384.1 L569.5 384.1" fill="none" stroke="#666" stroke-width="0.6"/>
<path d="M537 392.45 L569.5 392.45" fill="none" stroke="#666" stroke-width="0.6"/>
<path d="M537 400.8 L569.5 400.8" fill="none" stroke="#666" stroke-width="0.6"/>
<path d="M537 409.15 L569.5 409.15" fill="none" stroke="#666" stroke-width="0.6"/>
<rect x="574" y="334" width="33" height="83.5" fill="none" stroke="#666" stroke-width="0.7"/>
<path d="M574 342.35 L607 342.35" fill="none" stroke="#666" stroke-width="0.6"/>
<path d="M574 350.7 L607 350.7" fill="none" stroke="#666" stroke-width="0.6"/>
<path d="M574 359.05 L607 359.05" fill="none" stroke="#666" stroke-width="0.6"/>
<path d="M574 367.4 L607 367.4" fill="none" stroke="#666" stroke-width="0.6"/>
<path d="M574 375.75 L607 375.75" fill="none" stroke="#666" stroke-width="0.6"/>
<path d="M574 384.1 L607 384.1" fill="none" stroke="#666" stroke-width="0.6"/>
<path d="M574 392.45 L607 392.45" fill="none" stroke="#666" stroke-width="0.6"/>
<path d="M574 400.8 L607 400.8" fill="none" stroke="#666" stroke-width="0.6"/>
<path d="M574 409.15 L607 409.15" fill="none" stroke="#666" stroke-width="0.6"/>
<path d="M552.5 337 L552.5 424 L590.5 424 L590.5 337" fill="none" stroke="#666" stroke-width="0.7"/>
<circle cx="552.5" cy="337.5" r="0.9" fill="#333"/><circle cx="590.5" cy="337.5" r="0.9" fill="#333"/>
<path d="M295 399.5 L295 456" fill="none" stroke="#aaa" stroke-width="0.6"/>
<path d="M297.5 399.5 L297.5 456" fill="none" stroke="#aaa" stroke-width="0.6"/>
<rect x="475.5" y="509" width="74.5" height="26" fill="none" stroke="#666" stroke-width="0.7"/>
<path d="M477 517.5 L548.5 517.5" fill="none" stroke="#666" stroke-width="0.7"/>
<path d="M477 526.2 L548.5 526.2" fill="none" stroke="#666" stroke-width="0.7"/>
<path d="M477 509 L477 535" fill="none" stroke="#666" stroke-width="0.5"/>
<path d="M548.5 509 L548.5 535" fill="none" stroke="#666" stroke-width="0.5"/>
<path d="M512.5 511 L512.5 535" fill="none" stroke="#666" stroke-width="0.7"/>
<circle cx="512.5" cy="512" r="0.9" fill="#333"/>
<path d="M412.5 513 L412.5 535.5 L614 535.5 L614 513" fill="none" stroke="#999" stroke-width="0.7"/>
<path d="M414 513 L414 535" fill="none" stroke="#bbb" stroke-width="0.5"/>
<rect x="412.5" y="537" width="18.5" height="55" fill="none" stroke="#999" stroke-width="0.7"/>
<path d="M300.5 534.5 L107.5 534.5 L107.5 613.5 L254.5 613.5" fill="none" stroke="#8a8a8a" stroke-width="0.7"/>
<path d="M300.5 536.5 L109.5 536.5 L109.5 611.5 L254.5 611.5" fill="none" stroke="#8a8a8a" stroke-width="0.5"/>
<path d="M155.5 552.5 L296 552.5" fill="none" stroke="#444" stroke-width="0.6"/>
<path d="M302.5 569.5 L155.5 569.5 L155.5 577 L254.5 577 L254.5 613.5" fill="none" stroke="#8a8a8a" stroke-width="0.7"/>
<path d="M302.5 571.5 L157 571.5 L157 575 L254 575" fill="none" stroke="#8a8a8a" stroke-width="0.5"/>
<path d="M155.5 594.5 L254 594.5" fill="none" stroke="#444" stroke-width="0.6"/>
<path d="M300.5 569.5 L300.5 592.5" fill="none" stroke="#8a8a8a" stroke-width="0.7"/>
<path d="M302.5 569.5 L302.5 592.5" fill="none" stroke="#8a8a8a" stroke-width="0.7"/>
<path d="M302.5 592.5 L364 592.5" fill="none" stroke="#d0d0d0" stroke-width="0.5"/>
<path d="M299 513 L299 535" fill="none" stroke="#8a8a8a" stroke-width="0.6"/>
<path d="M302.5 513 L302.5 535" fill="none" stroke="#8a8a8a" stroke-width="0.6"/>
<path d="M363.75 569.5 L412.5 569.5" fill="none" stroke="#8a8a8a" stroke-width="0.7"/>
<path d="M363.75 569.5 L363.75 592.5 L431 592.5" fill="none" stroke="#8a8a8a" stroke-width="0.7"/>
<path d="M412.5 537.5 L431 537.5 L431 592.5" fill="none" stroke="#8a8a8a" stroke-width="0.7"/>
<path d="M412.5 537.5 L412.5 569.5 L431 592.5" fill="none" stroke="#8a8a8a" stroke-width="0.8"/>
<path d="M410 569.5 L429 592.5" fill="none" stroke="#8a8a8a" stroke-width="0.6"/>
<path d="M422 537.5 L422 581 L429.5 590" fill="none" stroke="#8a8a8a" stroke-width="0.5"/>
<path d="M365 576.5 L416 576.5" fill="none" stroke="#8a8a8a" stroke-width="0.4"/>
<path d="M365 583 L421 583" fill="none" stroke="#8a8a8a" stroke-width="0.6"/>
<path d="M389.5 570 L389.5 592.5" fill="none" stroke="#444" stroke-width="0.8"/>
<circle cx="389.5" cy="570.5" r="0.8" fill="#333"/>
<circle cx="19.3" cy="19.8" r="9.4" fill="#fff" opacity="0.45"/><text x="19.1" y="25.6" font-size="15.5" font-weight="bold" text-anchor="middle" fill="#6a665f">Я</text><circle cx="45" cy="19.5" r="8.8" fill="none" stroke="#fff" stroke-width="4.4" opacity="0.5"/>
</g>
</svg>
</body></html>
